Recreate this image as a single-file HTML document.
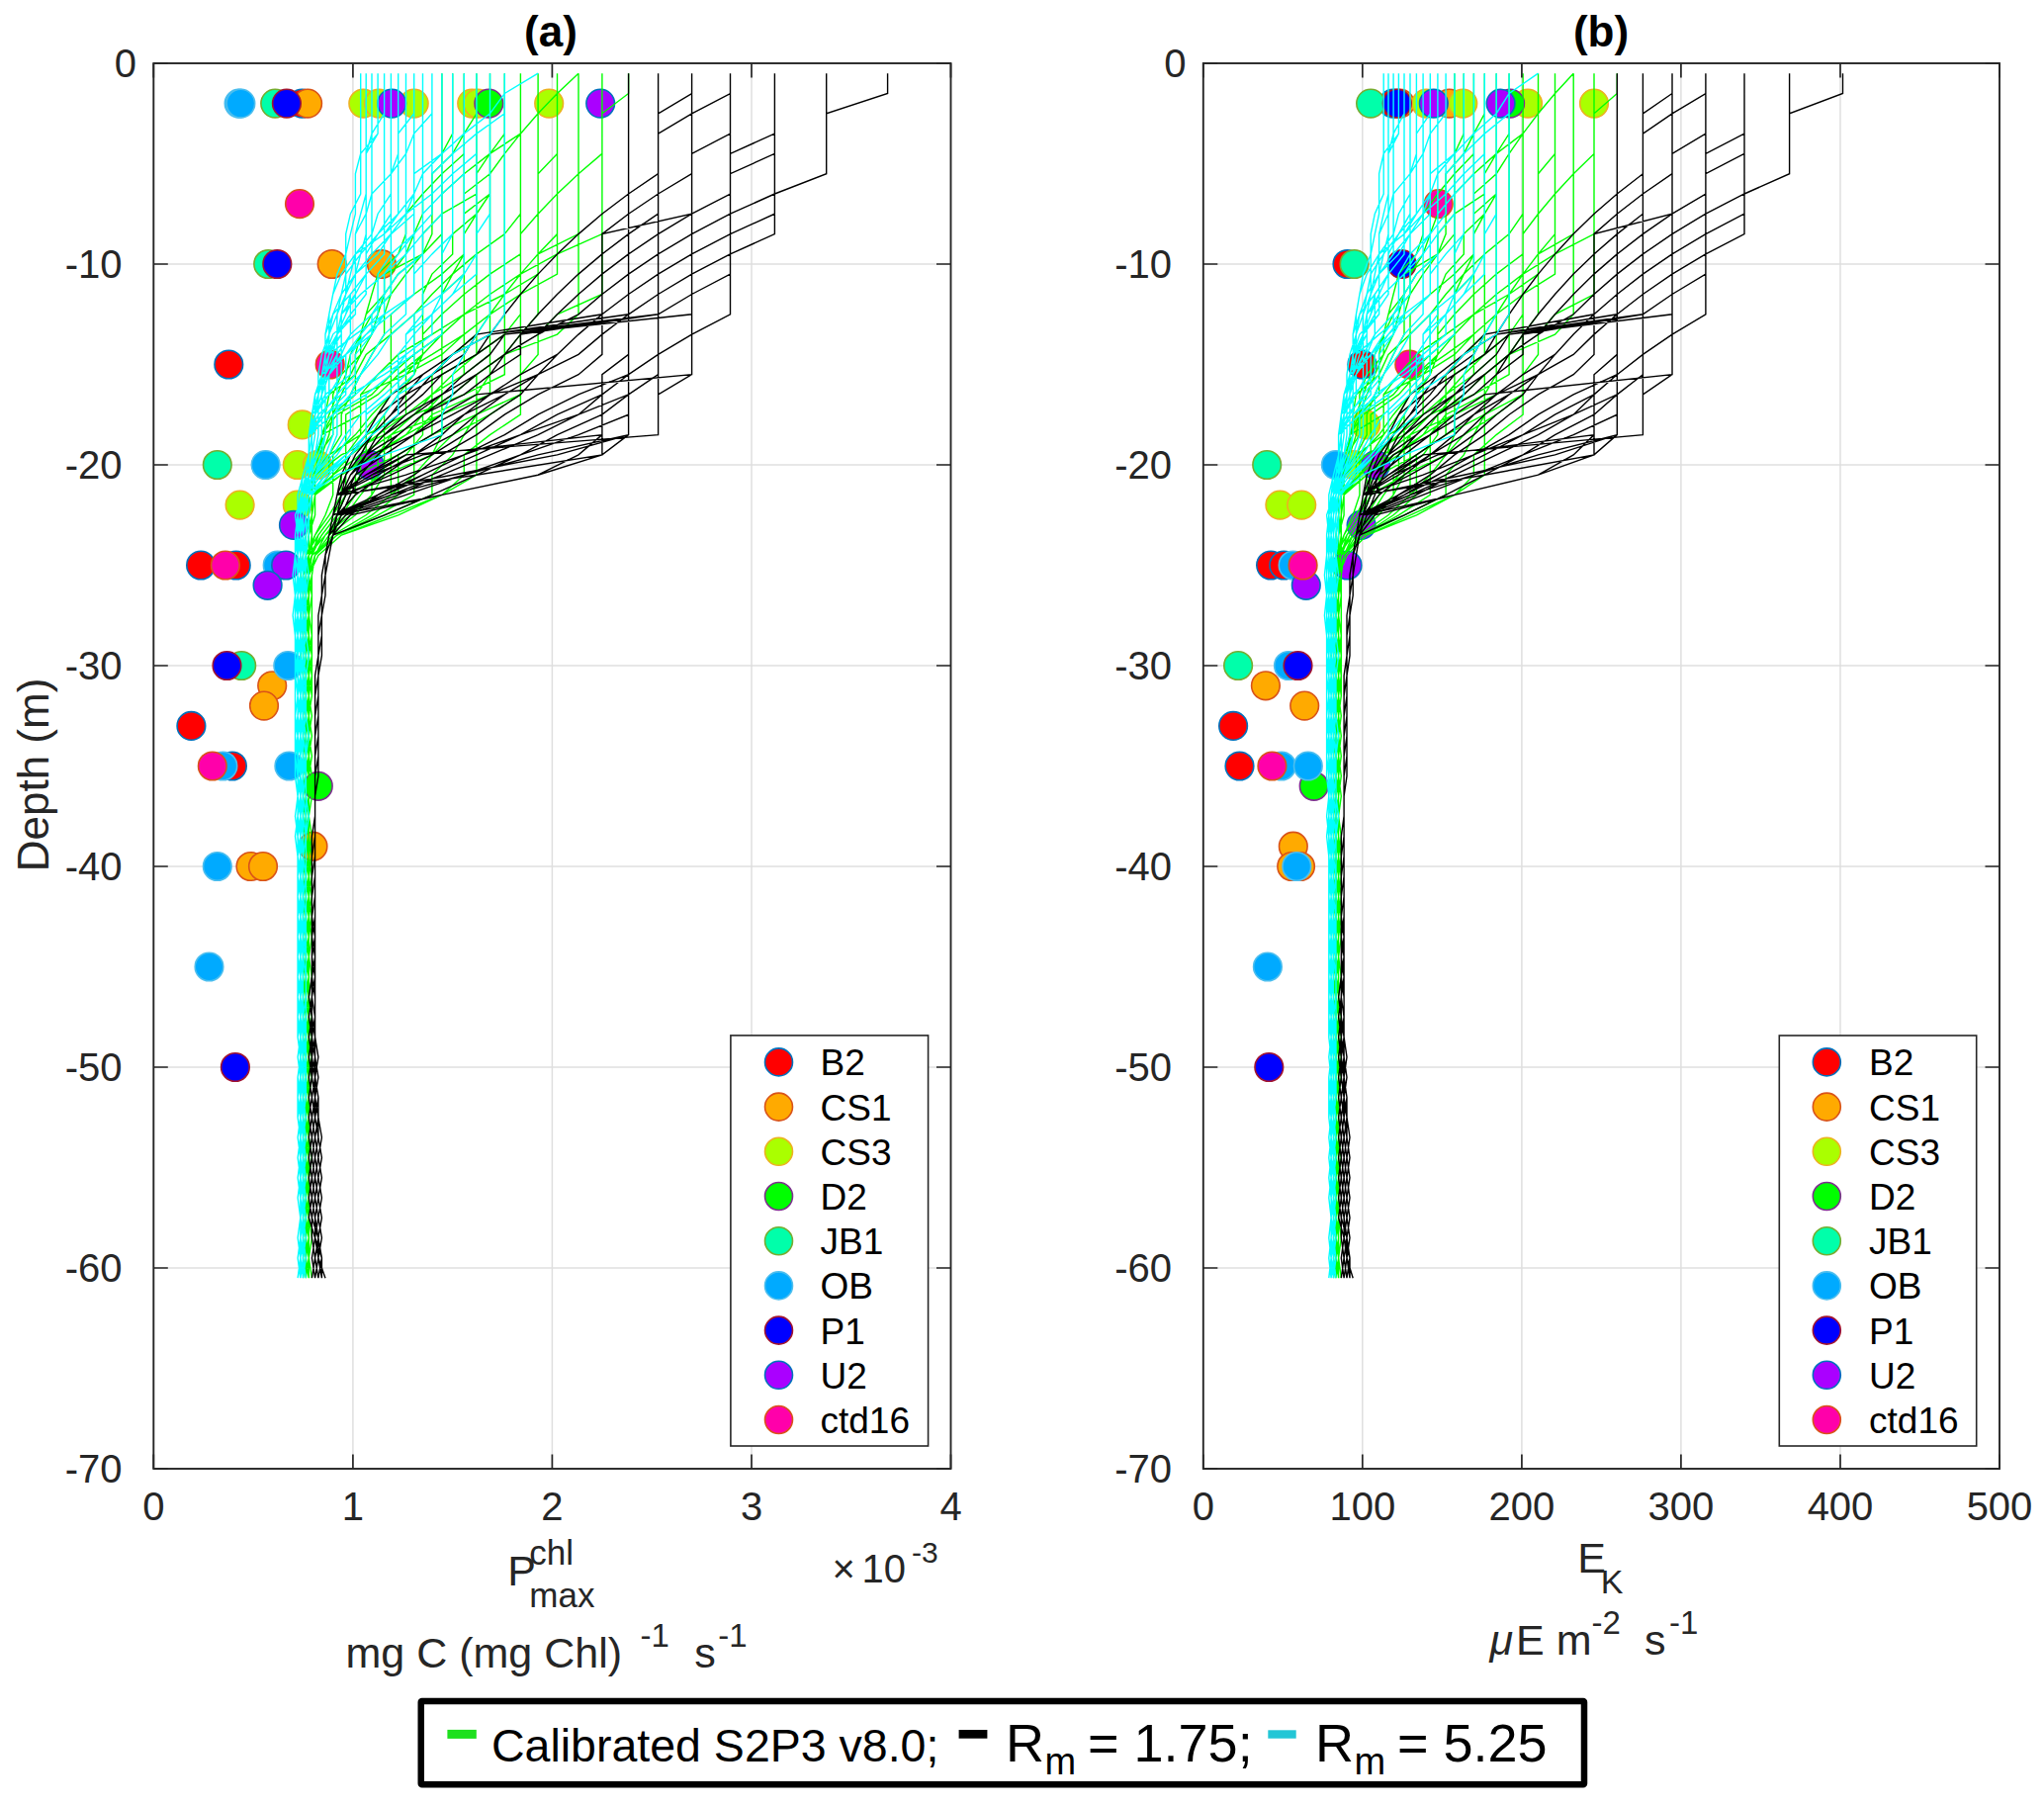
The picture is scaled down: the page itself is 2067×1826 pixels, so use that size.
<!DOCTYPE html>
<html><head><meta charset="utf-8"><title>Pmax and Ek profiles</title>
<style>
html,body{margin:0;padding:0;background:#fff;}
svg{display:block;}
text{font-family:'Liberation Sans', Arial, Helvetica, sans-serif;}
</style></head><body>
<svg xmlns="http://www.w3.org/2000/svg" width="2067" height="1826" viewBox="0 0 2067 1826">
<rect width="2067" height="1826" fill="#fff"/>
<path d="M356.9 64.0V1485.0M558.4 64.0V1485.0M760.0 64.0V1485.0M155.3 267.0H961.5M155.3 470.0H961.5M155.3 673.0H961.5M155.3 876.0H961.5M155.3 1079.0H961.5M155.3 1282.0H961.5" stroke="#dfdfdf" stroke-width="1.5" fill="none"/>
<circle cx="305.5" cy="104.6" r="14.3" fill="#ff0000" stroke="#0072bd" stroke-width="1.6"/>
<circle cx="231.3" cy="368.5" r="14.3" fill="#ff0000" stroke="#0072bd" stroke-width="1.6"/>
<circle cx="203.1" cy="571.5" r="14.3" fill="#ff0000" stroke="#0072bd" stroke-width="1.6"/>
<circle cx="238.7" cy="571.5" r="14.3" fill="#ff0000" stroke="#0072bd" stroke-width="1.6"/>
<circle cx="193.4" cy="733.9" r="14.3" fill="#ff0000" stroke="#0072bd" stroke-width="1.6"/>
<circle cx="234.9" cy="774.5" r="14.3" fill="#ff0000" stroke="#0072bd" stroke-width="1.6"/>
<circle cx="311.1" cy="104.6" r="14.3" fill="#ffaa00" stroke="#d95319" stroke-width="1.6"/>
<circle cx="335.7" cy="267.0" r="14.3" fill="#ffaa00" stroke="#d95319" stroke-width="1.6"/>
<circle cx="385.9" cy="267.0" r="14.3" fill="#ffaa00" stroke="#d95319" stroke-width="1.6"/>
<circle cx="275.2" cy="693.3" r="14.3" fill="#ffaa00" stroke="#d95319" stroke-width="1.6"/>
<circle cx="267.0" cy="713.6" r="14.3" fill="#ffaa00" stroke="#d95319" stroke-width="1.6"/>
<circle cx="316.5" cy="855.7" r="14.3" fill="#ffaa00" stroke="#d95319" stroke-width="1.6"/>
<circle cx="253.5" cy="876.0" r="14.3" fill="#ffaa00" stroke="#d95319" stroke-width="1.6"/>
<circle cx="266.0" cy="876.0" r="14.3" fill="#ffaa00" stroke="#d95319" stroke-width="1.6"/>
<circle cx="367.3" cy="104.6" r="14.3" fill="#aaff00" stroke="#edb120" stroke-width="1.6"/>
<circle cx="383.1" cy="104.6" r="14.3" fill="#aaff00" stroke="#edb120" stroke-width="1.6"/>
<circle cx="418.7" cy="104.6" r="14.3" fill="#aaff00" stroke="#edb120" stroke-width="1.6"/>
<circle cx="477.2" cy="104.6" r="14.3" fill="#aaff00" stroke="#edb120" stroke-width="1.6"/>
<circle cx="483.2" cy="104.6" r="14.3" fill="#aaff00" stroke="#edb120" stroke-width="1.6"/>
<circle cx="555.2" cy="104.6" r="14.3" fill="#aaff00" stroke="#edb120" stroke-width="1.6"/>
<circle cx="305.7" cy="429.4" r="14.3" fill="#aaff00" stroke="#edb120" stroke-width="1.6"/>
<circle cx="300.8" cy="470.0" r="14.3" fill="#aaff00" stroke="#edb120" stroke-width="1.6"/>
<circle cx="321.0" cy="470.0" r="14.3" fill="#aaff00" stroke="#edb120" stroke-width="1.6"/>
<circle cx="242.6" cy="510.6" r="14.3" fill="#aaff00" stroke="#edb120" stroke-width="1.6"/>
<circle cx="300.8" cy="510.6" r="14.3" fill="#aaff00" stroke="#edb120" stroke-width="1.6"/>
<circle cx="494.3" cy="104.6" r="14.3" fill="#00ff00" stroke="#7e2f8e" stroke-width="1.6"/>
<circle cx="321.8" cy="794.8" r="14.3" fill="#00ff00" stroke="#7e2f8e" stroke-width="1.6"/>
<circle cx="278.2" cy="104.6" r="14.3" fill="#00ffaa" stroke="#77ac30" stroke-width="1.6"/>
<circle cx="271.2" cy="267.0" r="14.3" fill="#00ffaa" stroke="#77ac30" stroke-width="1.6"/>
<circle cx="219.8" cy="470.0" r="14.3" fill="#00ffaa" stroke="#77ac30" stroke-width="1.6"/>
<circle cx="244.2" cy="673.0" r="14.3" fill="#00ffaa" stroke="#77ac30" stroke-width="1.6"/>
<circle cx="241.6" cy="104.6" r="14.3" fill="#00aaff" stroke="#4dbeee" stroke-width="1.6"/>
<circle cx="243.4" cy="104.6" r="14.3" fill="#00aaff" stroke="#4dbeee" stroke-width="1.6"/>
<circle cx="268.6" cy="470.0" r="14.3" fill="#00aaff" stroke="#4dbeee" stroke-width="1.6"/>
<circle cx="280.7" cy="571.5" r="14.3" fill="#00aaff" stroke="#4dbeee" stroke-width="1.6"/>
<circle cx="291.3" cy="673.0" r="14.3" fill="#00aaff" stroke="#4dbeee" stroke-width="1.6"/>
<circle cx="225.4" cy="774.5" r="14.3" fill="#00aaff" stroke="#4dbeee" stroke-width="1.6"/>
<circle cx="292.4" cy="774.5" r="14.3" fill="#00aaff" stroke="#4dbeee" stroke-width="1.6"/>
<circle cx="219.8" cy="876.0" r="14.3" fill="#00aaff" stroke="#4dbeee" stroke-width="1.6"/>
<circle cx="211.5" cy="977.5" r="14.3" fill="#00aaff" stroke="#4dbeee" stroke-width="1.6"/>
<circle cx="289.9" cy="104.6" r="14.3" fill="#0000ff" stroke="#a2142f" stroke-width="1.6"/>
<circle cx="280.3" cy="267.0" r="14.3" fill="#0000ff" stroke="#a2142f" stroke-width="1.6"/>
<circle cx="229.5" cy="673.0" r="14.3" fill="#0000ff" stroke="#a2142f" stroke-width="1.6"/>
<circle cx="237.9" cy="1079.0" r="14.3" fill="#0000ff" stroke="#a2142f" stroke-width="1.6"/>
<circle cx="396.2" cy="104.6" r="14.3" fill="#aa00ff" stroke="#0072bd" stroke-width="1.6"/>
<circle cx="607.2" cy="104.6" r="14.3" fill="#aa00ff" stroke="#0072bd" stroke-width="1.6"/>
<circle cx="373.6" cy="470.0" r="14.3" fill="#aa00ff" stroke="#0072bd" stroke-width="1.6"/>
<circle cx="297.0" cy="530.9" r="14.3" fill="#aa00ff" stroke="#0072bd" stroke-width="1.6"/>
<circle cx="289.1" cy="571.5" r="14.3" fill="#aa00ff" stroke="#0072bd" stroke-width="1.6"/>
<circle cx="270.6" cy="591.8" r="14.3" fill="#aa00ff" stroke="#0072bd" stroke-width="1.6"/>
<circle cx="303.0" cy="206.1" r="14.3" fill="#ff00aa" stroke="#d95319" stroke-width="1.6"/>
<circle cx="333.7" cy="368.5" r="14.3" fill="#ff00aa" stroke="#d95319" stroke-width="1.6"/>
<circle cx="227.9" cy="571.5" r="14.3" fill="#ff00aa" stroke="#d95319" stroke-width="1.6"/>
<circle cx="214.8" cy="774.5" r="14.3" fill="#ff00aa" stroke="#d95319" stroke-width="1.6"/>
<path d="M635.6 74.2 635.6 94.5 608.9 114.8 608.9 155.4 585.0 175.7 563.5 196.0 544.1 216.2 544.1 277.1 510.3 297.5 469.3 317.8 446.9 338.1 418.7 358.4 395.4 378.7 376.0 398.9 340.9 419.2 325.4 439.6 321.9 459.9 318.6 480.2 315.4 500.4 312.3 520.8 309.4 541.0 309.4 561.4 306.5 581.6 309.4 602.0 306.5 622.2 309.4 642.6 309.4 683.1 306.5 703.5 309.4 723.8 306.5 744.1 306.5 784.6 309.4 805.0 306.5 825.2 309.4 845.6 306.5 865.9 309.4 886.1 306.5 906.5 309.4 926.8 306.5 947.1 309.4 967.4 306.5 987.6 309.4 1008.0 306.5 1028.2 309.4 1048.6 306.5 1068.8 309.4 1089.2 306.5 1109.5 309.4 1129.8 309.4 1292.2M608.9 74.2 608.9 236.6 563.5 256.9 526.4 277.1 526.4 297.5 495.5 317.8 469.3 338.1 446.9 358.4 410.5 378.7 364.7 398.9 364.7 419.2 325.4 439.6 325.4 459.9 318.6 480.2 315.4 500.4 312.3 520.8 312.3 541.0 309.4 561.4 309.4 602.0 312.3 622.2 309.4 642.6 312.3 662.9 312.3 906.5 309.4 926.8 312.3 947.1 309.4 967.4 312.3 987.6 309.4 1008.0 309.4 1048.6 312.3 1068.8 309.4 1089.2 309.4 1129.8 312.3 1150.0 309.4 1170.4 312.3 1190.7 309.4 1211.0 312.3 1231.2 309.4 1251.5 312.3 1271.9 312.3 1292.2M608.9 74.2 608.9 155.4 585.0 175.7 563.5 196.0 563.5 236.6 544.1 256.9 526.4 277.1 510.3 297.5 495.5 317.8 495.5 358.4 469.3 378.7 436.9 398.9 418.7 419.2 395.4 439.6 364.7 459.9 336.7 480.2 318.6 500.4 318.6 520.8 312.3 541.0 309.4 561.4 306.5 581.6 309.4 602.0 306.5 622.2 309.4 642.6 306.5 662.9 309.4 683.1 309.4 764.4 306.5 784.6 309.4 805.0 306.5 825.2 309.4 845.6 306.5 865.9 309.4 886.1 306.5 906.5 309.4 926.8 309.4 1150.0 312.3 1170.4 309.4 1190.7 312.3 1211.0 309.4 1231.2 309.4 1292.2M585.0 74.2 585.0 317.8 563.5 338.1 510.3 358.4 510.3 378.7 469.3 398.9 418.7 419.2 388.6 439.6 345.2 459.9 318.6 480.2 312.3 500.4 312.3 520.8 315.4 541.0 312.3 561.4 312.3 581.6 309.4 602.0 312.3 622.2 309.4 642.6 312.3 662.9 309.4 683.1 312.3 703.5 309.4 723.8 312.3 744.1 309.4 764.4 312.3 784.6 312.3 926.8 315.4 947.1 312.3 967.4 315.4 987.6 312.3 1008.0 315.4 1028.2 312.3 1048.6 312.3 1271.9 309.4 1292.2M585.0 74.2 585.0 236.6 544.1 256.9 526.4 277.1 510.3 297.5 495.5 317.8 481.9 338.1 481.9 358.4 457.7 378.7 436.9 398.9 410.5 419.2 370.2 439.6 370.2 459.9 345.2 480.2 345.2 500.4 332.8 520.8 318.6 541.0 312.3 561.4 306.5 581.6 306.5 825.2 309.4 845.6 306.5 865.9 309.4 886.1 306.5 906.5 306.5 947.1 309.4 967.4 306.5 987.6 309.4 1008.0 306.5 1028.2 309.4 1048.6 309.4 1292.2M563.5 74.2 563.5 155.4 544.1 175.7 544.1 216.2 526.4 236.6 526.4 256.9 495.5 277.1 469.3 297.5 446.9 317.8 427.5 338.1 427.5 358.4 410.5 378.7 410.5 419.2 382.1 439.6 354.4 459.9 336.7 480.2 315.4 500.4 312.3 520.8 312.3 541.0 309.4 561.4 309.4 581.6 306.5 602.0 309.4 622.2 306.5 642.6 309.4 662.9 306.5 683.1 309.4 703.5 306.5 723.8 309.4 744.1 306.5 764.4 309.4 784.6 309.4 947.1 306.5 967.4 309.4 987.6 306.5 1008.0 309.4 1028.2 309.4 1292.2M563.5 74.2 563.5 277.1 526.4 297.5 526.4 317.8 510.3 338.1 481.9 358.4 446.9 378.7 446.9 398.9 427.5 419.2 410.5 439.6 376.0 459.9 345.2 480.2 315.4 500.4 315.4 561.4 312.3 581.6 312.3 764.4 309.4 784.6 312.3 805.0 309.4 825.2 312.3 845.6 309.4 865.9 312.3 886.1 309.4 906.5 312.3 926.8 309.4 947.1 312.3 967.4 309.4 987.6 312.3 1008.0 309.4 1028.2 312.3 1048.6 309.4 1068.8 312.3 1089.2 309.4 1109.5 312.3 1129.8 309.4 1150.0 312.3 1170.4 309.4 1190.7 312.3 1211.0 309.4 1231.2 312.3 1251.5 309.4 1271.9 312.3 1292.2M544.1 74.2 544.1 114.8 526.4 135.1 510.3 155.4 495.5 175.7 469.3 196.0 469.3 256.9 446.9 277.1 418.7 297.5 395.4 317.8 395.4 398.9 376.0 419.2 359.4 439.6 336.7 459.9 336.7 500.4 329.0 520.8 318.6 541.0 309.4 561.4 309.4 581.6 306.5 602.0 309.4 622.2 306.5 642.6 309.4 662.9 306.5 683.1 309.4 703.5 306.5 723.8 309.4 744.1 306.5 764.4 309.4 784.6 306.5 805.0 309.4 825.2 306.5 845.6 306.5 886.1 309.4 906.5 309.4 1231.2 306.5 1251.5 309.4 1271.9 309.4 1292.2M526.4 74.2 526.4 277.1 495.5 297.5 469.3 317.8 436.9 338.1 402.7 358.4 382.1 378.7 364.7 398.9 364.7 439.6 332.8 459.9 315.4 480.2 315.4 520.8 312.3 541.0 312.3 561.4 309.4 581.6 312.3 602.0 309.4 622.2 312.3 642.6 309.4 662.9 312.3 683.1 309.4 703.5 312.3 723.8 309.4 744.1 312.3 764.4 309.4 784.6 312.3 805.0 309.4 825.2 309.4 947.1 312.3 967.4 309.4 987.6 312.3 1008.0 309.4 1028.2 312.3 1048.6 309.4 1068.8 312.3 1089.2 312.3 1129.8 309.4 1150.0 312.3 1170.4 309.4 1190.7 312.3 1211.0 309.4 1231.2 312.3 1251.5 309.4 1271.9 312.3 1292.2M526.4 74.2 526.4 398.9 495.5 419.2 457.7 439.6 436.9 459.9 388.6 480.2 349.7 500.4 340.9 520.8 325.4 541.0 312.3 561.4 309.4 581.6 306.5 602.0 309.4 622.2 306.5 642.6 306.5 764.4 309.4 784.6 306.5 805.0 309.4 825.2 306.5 845.6 309.4 865.9 306.5 886.1 309.4 906.5 306.5 926.8 309.4 947.1 306.5 967.4 309.4 987.6 309.4 1089.2 312.3 1109.5 309.4 1129.8 312.3 1150.0 309.4 1170.4 312.3 1190.7 309.4 1211.0 309.4 1251.5 312.3 1271.9 309.4 1292.2M510.3 74.2 510.3 135.1 495.5 155.4 495.5 196.0 481.9 216.2 457.7 236.6 457.7 256.9 436.9 277.1 427.5 297.5 427.5 358.4 418.7 378.7 402.7 398.9 388.6 419.2 376.0 439.6 364.7 459.9 364.7 480.2 349.7 500.4 340.9 520.8 325.4 541.0 315.4 561.4 309.4 581.6 312.3 602.0 312.3 764.4 309.4 784.6 312.3 805.0 309.4 825.2 312.3 845.6 309.4 865.9 312.3 886.1 309.4 906.5 312.3 926.8 309.4 947.1 312.3 967.4 309.4 987.6 312.3 1008.0 309.4 1028.2 312.3 1048.6 309.4 1068.8 309.4 1190.7 312.3 1211.0 309.4 1231.2 312.3 1251.5 309.4 1271.9 312.3 1292.2M510.3 74.2 510.3 358.4 481.9 378.7 481.9 398.9 436.9 419.2 436.9 439.6 402.7 459.9 402.7 500.4 376.0 520.8 340.9 541.0 318.6 561.4 315.4 581.6 312.3 602.0 312.3 642.6 315.4 662.9 312.3 683.1 312.3 744.1 309.4 764.4 312.3 784.6 309.4 805.0 312.3 825.2 309.4 845.6 312.3 865.9 309.4 886.1 312.3 906.5 309.4 926.8 312.3 947.1 309.4 967.4 312.3 987.6 309.4 1008.0 312.3 1028.2 309.4 1048.6 312.3 1068.8 309.4 1089.2 312.3 1109.5 309.4 1129.8 312.3 1150.0 309.4 1170.4 312.3 1190.7 309.4 1211.0 312.3 1231.2 309.4 1251.5 312.3 1271.9 309.4 1292.2M495.5 74.2 495.5 196.0 469.3 216.2 469.3 256.9 457.7 277.1 436.9 297.5 418.7 317.8 418.7 378.7 395.4 398.9 382.1 419.2 364.7 439.6 349.7 459.9 349.7 500.4 336.7 520.8 321.9 541.0 315.4 561.4 309.4 581.6 312.3 602.0 309.4 622.2 312.3 642.6 309.4 662.9 312.3 683.1 309.4 703.5 312.3 723.8 309.4 744.1 309.4 825.2 312.3 845.6 309.4 865.9 312.3 886.1 309.4 906.5 312.3 926.8 309.4 947.1 312.3 967.4 309.4 987.6 309.4 1028.2 312.3 1048.6 309.4 1068.8 309.4 1190.7 312.3 1211.0 309.4 1231.2 312.3 1251.5 309.4 1271.9 312.3 1292.2M495.5 74.2 495.5 398.9 446.9 419.2 395.4 439.6 395.4 500.4 370.2 520.8 336.7 541.0 318.6 561.4 315.4 581.6 315.4 703.5 312.3 723.8 315.4 744.1 312.3 764.4 315.4 784.6 312.3 805.0 312.3 845.6 315.4 865.9 312.3 886.1 315.4 906.5 312.3 926.8 315.4 947.1 312.3 967.4 315.4 987.6 312.3 1008.0 312.3 1048.6 315.4 1068.8 312.3 1089.2 312.3 1292.2M481.9 74.2 481.9 216.2 469.3 236.6 469.3 256.9 457.7 277.1 446.9 297.5 446.9 439.6 436.9 459.9 418.7 480.2 418.7 500.4 382.1 520.8 340.9 541.0 315.4 561.4 306.5 581.6 309.4 602.0 306.5 622.2 309.4 642.6 306.5 662.9 309.4 683.1 306.5 703.5 309.4 723.8 306.5 744.1 309.4 764.4 309.4 805.0 306.5 825.2 309.4 845.6 309.4 886.1 306.5 906.5 309.4 926.8 306.5 947.1 309.4 967.4 306.5 987.6 309.4 1008.0 309.4 1190.7 312.3 1211.0 309.4 1231.2 309.4 1292.2M469.3 74.2 469.3 378.7 436.9 398.9 436.9 419.2 418.7 439.6 418.7 480.2 395.4 500.4 370.2 520.8 336.7 541.0 318.6 561.4 315.4 581.6 312.3 602.0 312.3 642.6 315.4 662.9 312.3 683.1 315.4 703.5 312.3 723.8 312.3 764.4 315.4 784.6 312.3 805.0 312.3 865.9 309.4 886.1 312.3 906.5 309.4 926.8 312.3 947.1 312.3 1292.2M457.7 74.2 457.7 135.1 446.9 155.4 446.9 175.7 427.5 196.0 427.5 216.2 418.7 236.6 410.5 256.9 395.4 277.1 395.4 297.5 388.6 317.8 388.6 338.1 376.0 358.4 364.7 378.7 354.4 398.9 345.2 419.2 345.2 439.6 332.8 459.9 332.8 480.2 318.6 500.4 315.4 520.8 312.3 541.0 309.4 561.4 306.5 581.6 306.5 642.6 303.8 662.9 306.5 683.1 306.5 703.5 309.4 723.8 306.5 744.1 309.4 764.4 306.5 784.6 309.4 805.0 306.5 825.2 306.5 1068.8 309.4 1089.2 306.5 1109.5 309.4 1129.8 306.5 1150.0 309.4 1170.4 306.5 1190.7 309.4 1211.0 306.5 1231.2 309.4 1251.5 309.4 1292.2M446.9 74.2 446.9 419.2 410.5 439.6 382.1 459.9 345.2 480.2 318.6 500.4 315.4 520.8 315.4 541.0 312.3 561.4 312.3 581.6 309.4 602.0 312.3 622.2 309.4 642.6 312.3 662.9 309.4 683.1 312.3 703.5 309.4 723.8 312.3 744.1 309.4 764.4 309.4 805.0 312.3 825.2 309.4 845.6 312.3 865.9 309.4 886.1 312.3 906.5 309.4 926.8 312.3 947.1 309.4 967.4 309.4 1048.6 312.3 1068.8 309.4 1089.2 312.3 1109.5 309.4 1129.8 312.3 1150.0 312.3 1292.2M544.1 74.2 544.1 317.8 526.4 338.1 510.3 358.4 481.9 378.7 457.7 398.9 427.5 419.2 427.5 439.6 410.5 459.9 376.0 480.2 376.0 500.4 359.4 520.8 332.8 541.0 318.6 561.4 312.3 581.6 312.3 642.6 309.4 662.9 312.3 683.1 309.4 703.5 312.3 723.8 309.4 744.1 312.3 764.4 312.3 865.9 315.4 886.1 312.3 906.5 315.4 926.8 312.3 947.1 312.3 1008.0 309.4 1028.2 312.3 1048.6 309.4 1068.8 312.3 1089.2 312.3 1150.0 315.4 1170.4 312.3 1190.7 312.3 1231.2 315.4 1251.5 312.3 1271.9 312.3 1292.2M469.3 74.2 469.3 155.4 446.9 175.7 427.5 196.0 410.5 216.2 410.5 236.6 402.7 256.9 382.1 277.1 376.0 297.5 370.2 317.8 364.7 338.1 354.4 358.4 349.7 378.7 340.9 398.9 332.8 419.2 325.4 439.6 325.4 459.9 318.6 480.2 315.4 500.4 312.3 520.8 312.3 541.0 309.4 561.4 309.4 662.9 306.5 683.1 309.4 703.5 306.5 723.8 306.5 764.4 309.4 784.6 306.5 805.0 309.4 825.2 306.5 845.6 309.4 865.9 306.5 886.1 309.4 906.5 306.5 926.8 309.4 947.1 309.4 987.6 306.5 1008.0 309.4 1028.2 306.5 1048.6 309.4 1068.8 309.4 1292.2M585.0 74.2 563.5 94.5 544.1 114.8 526.4 135.1 495.5 155.4 469.3 175.7 446.9 196.0 446.9 216.2 427.5 236.6 427.5 256.9 402.7 277.1 388.6 297.5 382.1 317.8 376.0 338.1 364.7 358.4 354.4 378.7 345.2 398.9 336.7 419.2 332.8 439.6 325.4 459.9 318.6 480.2 315.4 500.4 312.3 520.8 309.4 541.0 306.5 561.4 303.8 581.6 306.5 602.0 303.8 622.2 306.5 642.6 303.8 662.9 306.5 683.1 306.5 703.5 309.4 723.8 306.5 744.1 309.4 764.4 306.5 784.6 309.4 805.0 306.5 825.2 309.4 845.6 306.5 865.9 309.4 886.1 306.5 906.5 309.4 926.8 306.5 947.1 306.5 1068.8 309.4 1089.2 306.5 1109.5 309.4 1129.8 306.5 1150.0 309.4 1170.4 309.4 1211.0 306.5 1231.2 309.4 1251.5 306.5 1271.9 309.4 1292.2M526.4 74.2 526.4 216.2 510.3 236.6 481.9 256.9 457.7 277.1 436.9 297.5 418.7 317.8 395.4 338.1 370.2 358.4 359.4 378.7 332.8 398.9 329.0 419.2 329.0 439.6 318.6 459.9 315.4 480.2 315.4 541.0 312.3 561.4 312.3 581.6 309.4 602.0 312.3 622.2 309.4 642.6 312.3 662.9 309.4 683.1 312.3 703.5 309.4 723.8 312.3 744.1 309.4 764.4 312.3 784.6 309.4 805.0 312.3 825.2 309.4 845.6 312.3 865.9 309.4 886.1 312.3 906.5 309.4 926.8 312.3 947.1 309.4 967.4 312.3 987.6 309.4 1008.0 312.3 1028.2 309.4 1048.6 312.3 1068.8 309.4 1089.2 312.3 1109.5 309.4 1129.8 312.3 1150.0 309.4 1170.4 312.3 1190.7 309.4 1211.0 312.3 1231.2 309.4 1251.5 312.3 1271.9 309.4 1292.2M608.9 74.2 608.9 297.5 563.5 317.8 544.1 338.1 544.1 358.4 526.4 378.7 526.4 398.9 481.9 419.2 481.9 480.2 446.9 500.4 402.7 520.8 345.2 541.0 321.9 561.4 312.3 581.6 312.3 602.0 309.4 622.2 312.3 642.6 309.4 662.9 312.3 683.1 309.4 703.5 312.3 723.8 312.3 784.6 315.4 805.0 312.3 825.2 315.4 845.6 312.3 865.9 315.4 886.1 312.3 906.5 312.3 967.4 309.4 987.6 312.3 1008.0 309.4 1028.2 312.3 1048.6 309.4 1068.8 312.3 1089.2 312.3 1129.8 309.4 1150.0 312.3 1170.4 309.4 1190.7 312.3 1211.0 309.4 1231.2 312.3 1251.5 312.3 1292.2M469.3 74.2 469.3 277.1 446.9 297.5 446.9 338.1 427.5 358.4 402.7 378.7 402.7 398.9 388.6 419.2 388.6 480.2 376.0 500.4 354.4 520.8 329.0 541.0 312.3 561.4 309.4 581.6 309.4 642.6 312.3 662.9 309.4 683.1 312.3 703.5 309.4 723.8 312.3 744.1 309.4 764.4 312.3 784.6 309.4 805.0 312.3 825.2 309.4 845.6 309.4 865.9 306.5 886.1 309.4 906.5 306.5 926.8 309.4 947.1 306.5 967.4 309.4 987.6 306.5 1008.0 309.4 1028.2 309.4 1150.0 306.5 1170.4 309.4 1190.7 306.5 1211.0 309.4 1231.2 309.4 1292.2M481.9 74.2 481.9 114.8 469.3 135.1 457.7 155.4 436.9 175.7 436.9 236.6 427.5 256.9 410.5 277.1 395.4 297.5 376.0 317.8 364.7 338.1 364.7 358.4 345.2 378.7 336.7 398.9 336.7 419.2 325.4 439.6 321.9 459.9 318.6 480.2 318.6 500.4 315.4 520.8 312.3 541.0 312.3 561.4 309.4 581.6 312.3 602.0 309.4 622.2 309.4 662.9 312.3 683.1 309.4 703.5 312.3 723.8 309.4 744.1 312.3 764.4 309.4 784.6 312.3 805.0 309.4 825.2 312.3 845.6 309.4 865.9 312.3 886.1 312.3 967.4 309.4 987.6 312.3 1008.0 309.4 1028.2 312.3 1048.6 309.4 1068.8 312.3 1089.2 309.4 1109.5 312.3 1129.8 309.4 1150.0 312.3 1170.4 312.3 1292.2M495.5 74.2 495.5 155.4 481.9 175.7 481.9 196.0 446.9 216.2 446.9 236.6 427.5 256.9 388.6 277.1 388.6 297.5 370.2 317.8 364.7 338.1 359.4 358.4 359.4 398.9 336.7 419.2 336.7 439.6 321.9 459.9 318.6 480.2 318.6 500.4 315.4 520.8 312.3 541.0 309.4 561.4 312.3 581.6 309.4 602.0 312.3 622.2 309.4 642.6 309.4 662.9 306.5 683.1 309.4 703.5 306.5 723.8 309.4 744.1 306.5 764.4 309.4 784.6 306.5 805.0 309.4 825.2 306.5 845.6 309.4 865.9 306.5 886.1 309.4 906.5 309.4 1150.0 306.5 1170.4 309.4 1190.7 309.4 1292.2M526.4 74.2 526.4 419.2 495.5 439.6 469.3 459.9 469.3 480.2 446.9 500.4 395.4 520.8 345.2 541.0 321.9 561.4 312.3 581.6 315.4 602.0 312.3 622.2 315.4 642.6 312.3 662.9 315.4 683.1 312.3 703.5 315.4 723.8 312.3 744.1 315.4 764.4 312.3 784.6 315.4 805.0 312.3 825.2 315.4 845.6 312.3 865.9 312.3 906.5 315.4 926.8 312.3 947.1 312.3 1028.2 315.4 1048.6 312.3 1068.8 315.4 1089.2 312.3 1109.5 312.3 1292.2M469.3 74.2 469.3 338.1 436.9 358.4 402.7 378.7 382.1 398.9 349.7 419.2 349.7 500.4 336.7 520.8 321.9 541.0 309.4 561.4 306.5 581.6 306.5 642.6 309.4 662.9 306.5 683.1 309.4 703.5 306.5 723.8 309.4 744.1 306.5 764.4 309.4 784.6 306.5 805.0 309.4 825.2 306.5 845.6 309.4 865.9 306.5 886.1 309.4 906.5 306.5 926.8 309.4 947.1 306.5 967.4 309.4 987.6 306.5 1008.0 309.4 1028.2 306.5 1048.6 306.5 1129.8 309.4 1150.0 306.5 1170.4 309.4 1190.7 306.5 1211.0 309.4 1231.2 306.5 1251.5 309.4 1271.9 306.5 1292.2M526.4 74.2 526.4 398.9 481.9 419.2 436.9 439.6 402.7 459.9 359.4 480.2 359.4 500.4 345.2 520.8 329.0 541.0 318.6 561.4 312.3 581.6 312.3 683.1 309.4 703.5 312.3 723.8 309.4 744.1 312.3 764.4 309.4 784.6 312.3 805.0 309.4 825.2 312.3 845.6 312.3 886.1 309.4 906.5 312.3 926.8 309.4 947.1 312.3 967.4 312.3 1129.8 309.4 1150.0 312.3 1170.4 309.4 1190.7 312.3 1211.0 312.3 1271.9 315.4 1292.2M495.5 74.2 495.5 378.7 481.9 398.9 481.9 419.2 469.3 439.6 457.7 459.9 436.9 480.2 436.9 500.4 388.6 520.8 340.9 541.0 315.4 561.4 309.4 581.6 309.4 602.0 312.3 622.2 309.4 642.6 309.4 723.8 312.3 744.1 309.4 764.4 312.3 784.6 309.4 805.0 312.3 825.2 309.4 845.6 312.3 865.9 309.4 886.1 312.3 906.5 309.4 926.8 312.3 947.1 309.4 967.4 312.3 987.6 309.4 1008.0 312.3 1028.2 309.4 1048.6 312.3 1068.8 309.4 1089.2 309.4 1129.8 312.3 1150.0 309.4 1170.4 312.3 1190.7 309.4 1211.0 312.3 1231.2 309.4 1251.5 312.3 1271.9 309.4 1292.2M481.9 74.2 481.9 338.1 457.7 358.4 436.9 378.7 436.9 398.9 418.7 419.2 395.4 439.6 382.1 459.9 382.1 480.2 364.7 500.4 349.7 520.8 329.0 541.0 318.6 561.4 312.3 581.6 312.3 642.6 309.4 662.9 312.3 683.1 312.3 703.5 315.4 723.8 312.3 744.1 312.3 784.6 315.4 805.0 312.3 825.2 315.4 845.6 312.3 865.9 315.4 886.1 312.3 906.5 312.3 967.4 309.4 987.6 312.3 1008.0 309.4 1028.2 312.3 1048.6 312.3 1211.0 309.4 1231.2 312.3 1251.5 309.4 1271.9 312.3 1292.2" fill="none" stroke="#00ff00" stroke-width="1.4"/>
<path d="M897.6 74.2 897.6 94.5 835.7 114.8 835.7 175.7 783.4 196.0 738.5 216.2 699.6 236.6 665.6 256.9 635.6 277.1 608.9 297.5 585.0 317.8 544.1 338.1 510.3 358.4 481.9 378.7 446.9 398.9 418.7 419.2 388.6 439.6 370.2 459.9 354.4 480.2 345.2 500.4 340.9 520.8 336.7 541.0 329.0 561.4 329.0 581.6 325.4 602.0 325.4 622.2 321.9 642.6 321.9 703.5 318.6 723.8 318.6 1048.6 321.9 1068.8 318.6 1089.2 321.9 1109.5 321.9 1129.8 325.4 1150.0 321.9 1170.4 325.4 1190.7 321.9 1211.0 325.4 1231.2 321.9 1251.5 325.4 1271.9 325.4 1292.2M835.7 74.2 835.7 175.7 783.4 196.0 783.4 236.6 738.5 256.9 738.5 317.8 699.6 338.1 699.6 378.7 665.6 398.9 665.6 439.6 410.5 459.9 370.2 480.2 340.9 500.4 336.7 520.8 332.8 541.0 329.0 561.4 325.4 581.6 325.4 602.0 321.9 622.2 321.9 662.9 318.6 683.1 318.6 825.2 315.4 845.6 315.4 1028.2 318.6 1048.6 315.4 1068.8 318.6 1089.2 318.6 1109.5 321.9 1129.8 318.6 1150.0 321.9 1170.4 318.6 1190.7 321.9 1211.0 318.6 1231.2 321.9 1251.5 321.9 1271.9 325.4 1292.2M783.4 74.2 783.4 236.6 738.5 256.9 699.6 277.1 665.6 297.5 635.6 317.8 608.9 338.1 585.0 358.4 544.1 378.7 526.4 398.9 495.5 419.2 469.3 439.6 436.9 459.9 395.4 480.2 349.7 500.4 340.9 520.8 336.7 541.0 332.8 561.4 329.0 581.6 325.4 602.0 325.4 642.6 321.9 662.9 321.9 723.8 318.6 744.1 318.6 947.1 315.4 967.4 315.4 1048.6 318.6 1068.8 315.4 1089.2 318.6 1109.5 315.4 1129.8 318.6 1150.0 315.4 1170.4 318.6 1190.7 315.4 1211.0 318.6 1231.2 318.6 1251.5 321.9 1271.9 318.6 1292.2M783.4 74.2 783.4 155.4 738.5 175.7 738.5 317.8 699.6 338.1 665.6 358.4 635.6 378.7 608.9 398.9 563.5 419.2 526.4 439.6 481.9 459.9 436.9 480.2 388.6 500.4 336.7 520.8 332.8 541.0 329.0 561.4 329.0 581.6 325.4 602.0 325.4 622.2 321.9 642.6 321.9 662.9 318.6 683.1 318.6 865.9 315.4 886.1 315.4 1008.0 312.3 1028.2 315.4 1048.6 312.3 1068.8 315.4 1089.2 312.3 1109.5 315.4 1129.8 312.3 1150.0 315.4 1170.4 312.3 1190.7 315.4 1211.0 312.3 1231.2 318.6 1251.5 315.4 1271.9 318.6 1292.2M783.4 74.2 783.4 216.2 738.5 236.6 699.6 256.9 665.6 277.1 635.6 297.5 608.9 317.8 585.0 338.1 563.5 358.4 526.4 378.7 495.5 398.9 469.3 419.2 446.9 439.6 418.7 459.9 388.6 480.2 359.4 500.4 340.9 520.8 336.7 541.0 329.0 561.4 329.0 581.6 325.4 602.0 325.4 622.2 321.9 642.6 321.9 703.5 318.6 723.8 318.6 1068.8 321.9 1089.2 318.6 1109.5 321.9 1129.8 321.9 1150.0 325.4 1170.4 321.9 1190.7 325.4 1211.0 321.9 1231.2 325.4 1251.5 321.9 1271.9 329.0 1292.2M738.5 74.2 738.5 94.5 699.6 114.8 665.6 135.1 665.6 317.8 495.5 338.1 457.7 358.4 427.5 378.7 395.4 398.9 382.1 419.2 370.2 439.6 354.4 459.9 345.2 480.2 340.9 500.4 336.7 520.8 332.8 541.0 329.0 561.4 325.4 581.6 325.4 602.0 321.9 622.2 321.9 662.9 318.6 683.1 318.6 825.2 315.4 845.6 315.4 1008.0 318.6 1028.2 315.4 1048.6 318.6 1068.8 315.4 1089.2 318.6 1109.5 318.6 1129.8 321.9 1150.0 318.6 1170.4 321.9 1190.7 318.6 1211.0 321.9 1231.2 318.6 1251.5 325.4 1271.9 321.9 1292.2M699.6 74.2 699.6 317.8 510.3 338.1 481.9 358.4 446.9 378.7 410.5 398.9 382.1 419.2 370.2 439.6 354.4 459.9 345.2 480.2 340.9 500.4 336.7 520.8 332.8 541.0 329.0 561.4 325.4 581.6 325.4 602.0 321.9 622.2 321.9 662.9 318.6 683.1 318.6 825.2 315.4 845.6 315.4 1068.8 318.6 1089.2 315.4 1109.5 318.6 1129.8 315.4 1150.0 318.6 1170.4 315.4 1190.7 318.6 1211.0 315.4 1231.2 321.9 1251.5 318.6 1271.9 321.9 1292.2M699.6 74.2 699.6 216.2 608.9 236.6 608.9 317.8 481.9 338.1 457.7 358.4 436.9 378.7 418.7 398.9 395.4 419.2 376.0 439.6 359.4 459.9 349.7 480.2 345.2 500.4 336.7 520.8 332.8 541.0 329.0 561.4 329.0 581.6 325.4 602.0 325.4 622.2 321.9 642.6 321.9 662.9 318.6 683.1 318.6 865.9 315.4 886.1 315.4 1028.2 312.3 1048.6 315.4 1068.8 312.3 1089.2 315.4 1109.5 312.3 1129.8 315.4 1150.0 312.3 1170.4 315.4 1190.7 312.3 1211.0 315.4 1231.2 315.4 1251.5 318.6 1271.9 315.4 1292.2M665.6 74.2 665.6 317.8 510.3 338.1 495.5 358.4 469.3 378.7 446.9 398.9 410.5 419.2 388.6 439.6 370.2 459.9 359.4 480.2 349.7 500.4 340.9 520.8 336.7 541.0 332.8 561.4 329.0 581.6 325.4 602.0 325.4 642.6 321.9 662.9 321.9 744.1 318.6 764.4 318.6 1048.6 321.9 1068.8 318.6 1089.2 321.9 1109.5 321.9 1129.8 325.4 1150.0 321.9 1170.4 325.4 1190.7 321.9 1211.0 325.4 1231.2 321.9 1251.5 325.4 1271.9 325.4 1292.2M635.6 74.2 635.6 317.8 495.5 338.1 457.7 358.4 427.5 378.7 410.5 398.9 395.4 419.2 376.0 439.6 359.4 459.9 349.7 480.2 340.9 500.4 336.7 520.8 332.8 541.0 329.0 561.4 329.0 581.6 325.4 602.0 325.4 622.2 321.9 642.6 321.9 662.9 318.6 683.1 318.6 865.9 315.4 886.1 315.4 1028.2 318.6 1048.6 315.4 1068.8 318.6 1089.2 318.6 1109.5 321.9 1129.8 318.6 1150.0 321.9 1170.4 318.6 1190.7 321.9 1211.0 318.6 1231.2 321.9 1251.5 321.9 1271.9 325.4 1292.2M635.6 74.2 635.6 216.2 608.9 236.6 608.9 317.8 481.9 338.1 469.3 358.4 436.9 378.7 418.7 398.9 395.4 419.2 376.0 439.6 364.7 459.9 349.7 480.2 345.2 500.4 336.7 520.8 332.8 541.0 329.0 561.4 329.0 581.6 325.4 602.0 325.4 622.2 321.9 642.6 321.9 662.9 318.6 683.1 318.6 886.1 315.4 906.5 315.4 1048.6 318.6 1068.8 315.4 1089.2 318.6 1109.5 315.4 1129.8 318.6 1150.0 315.4 1170.4 318.6 1190.7 315.4 1211.0 318.6 1231.2 318.6 1251.5 321.9 1271.9 318.6 1292.2M738.5 74.2 738.5 277.1 699.6 297.5 665.6 317.8 526.4 338.1 526.4 358.4 495.5 378.7 469.3 398.9 427.5 419.2 402.7 439.6 382.1 459.9 364.7 480.2 354.4 500.4 345.2 520.8 336.7 541.0 332.8 561.4 329.0 581.6 329.0 602.0 325.4 622.2 325.4 642.6 321.9 662.9 321.9 784.6 318.6 805.0 318.6 967.4 315.4 987.6 315.4 1089.2 312.3 1109.5 315.4 1129.8 312.3 1150.0 315.4 1170.4 312.3 1190.7 315.4 1211.0 312.3 1231.2 318.6 1251.5 315.4 1271.9 318.6 1292.2M738.5 74.2 738.5 317.8 699.6 338.1 665.6 358.4 635.6 378.7 608.9 398.9 585.0 419.2 544.1 439.6 495.5 459.9 446.9 480.2 395.4 500.4 340.9 520.8 336.7 541.0 329.0 561.4 329.0 581.6 325.4 602.0 325.4 622.2 321.9 642.6 321.9 703.5 318.6 723.8 318.6 1068.8 321.9 1089.2 318.6 1109.5 321.9 1129.8 321.9 1150.0 325.4 1170.4 321.9 1190.7 325.4 1211.0 321.9 1231.2 325.4 1251.5 321.9 1271.9 329.0 1292.2M738.5 74.2 738.5 135.1 699.6 155.4 699.6 378.7 481.9 398.9 446.9 419.2 418.7 439.6 388.6 459.9 359.4 480.2 345.2 500.4 340.9 520.8 332.8 541.0 329.0 561.4 329.0 581.6 325.4 602.0 325.4 622.2 321.9 642.6 321.9 683.1 318.6 703.5 318.6 906.5 315.4 926.8 318.6 947.1 315.4 967.4 318.6 987.6 315.4 1008.0 318.6 1028.2 315.4 1048.6 318.6 1068.8 318.6 1129.8 321.9 1150.0 318.6 1170.4 321.9 1190.7 318.6 1211.0 321.9 1231.2 318.6 1251.5 325.4 1271.9 321.9 1292.2M738.5 74.2 738.5 196.0 699.6 216.2 665.6 236.6 635.6 256.9 608.9 277.1 585.0 297.5 563.5 317.8 544.1 338.1 510.3 358.4 481.9 378.7 457.7 398.9 427.5 419.2 402.7 439.6 370.2 459.9 354.4 480.2 345.2 500.4 340.9 520.8 336.7 541.0 329.0 561.4 329.0 581.6 325.4 602.0 325.4 622.2 321.9 642.6 321.9 703.5 318.6 723.8 318.6 926.8 315.4 947.1 315.4 1028.2 318.6 1048.6 315.4 1068.8 318.6 1089.2 315.4 1109.5 318.6 1129.8 315.4 1150.0 318.6 1170.4 315.4 1190.7 318.6 1211.0 315.4 1231.2 321.9 1251.5 318.6 1271.9 321.9 1292.2M699.6 74.2 699.6 338.1 665.6 358.4 635.6 378.7 585.0 398.9 544.1 419.2 510.3 439.6 469.3 459.9 427.5 480.2 382.1 500.4 336.7 520.8 332.8 541.0 329.0 561.4 325.4 581.6 325.4 602.0 321.9 622.2 321.9 662.9 318.6 683.1 318.6 825.2 315.4 845.6 315.4 987.6 312.3 1008.0 315.4 1028.2 312.3 1048.6 315.4 1068.8 312.3 1089.2 315.4 1109.5 312.3 1129.8 315.4 1150.0 312.3 1170.4 315.4 1190.7 312.3 1211.0 315.4 1231.2 315.4 1251.5 318.6 1271.9 315.4 1292.2M699.6 74.2 699.6 94.5 665.6 114.8 665.6 358.4 635.6 378.7 585.0 398.9 544.1 419.2 510.3 439.6 469.3 459.9 427.5 480.2 388.6 500.4 345.2 520.8 336.7 541.0 332.8 561.4 329.0 581.6 329.0 602.0 325.4 622.2 325.4 662.9 321.9 683.1 321.9 784.6 318.6 805.0 318.6 1048.6 321.9 1068.8 318.6 1089.2 321.9 1109.5 321.9 1129.8 325.4 1150.0 321.9 1170.4 325.4 1190.7 321.9 1211.0 325.4 1231.2 321.9 1251.5 325.4 1271.9 325.4 1292.2M699.6 74.2 699.6 175.7 665.6 196.0 635.6 216.2 608.9 236.6 608.9 338.1 585.0 358.4 544.1 378.7 510.3 398.9 481.9 419.2 457.7 439.6 418.7 459.9 382.1 480.2 340.9 500.4 336.7 520.8 332.8 541.0 329.0 561.4 329.0 581.6 325.4 602.0 325.4 622.2 321.9 642.6 321.9 662.9 318.6 683.1 318.6 845.6 315.4 865.9 315.4 1028.2 318.6 1048.6 315.4 1068.8 318.6 1089.2 318.6 1109.5 321.9 1129.8 318.6 1150.0 321.9 1170.4 318.6 1190.7 321.9 1211.0 318.6 1231.2 321.9 1251.5 321.9 1271.9 325.4 1292.2M699.6 74.2 699.6 256.9 665.6 277.1 635.6 297.5 608.9 317.8 585.0 338.1 563.5 358.4 544.1 378.7 495.5 398.9 457.7 419.2 418.7 439.6 376.0 459.9 354.4 480.2 345.2 500.4 340.9 520.8 332.8 541.0 329.0 561.4 329.0 581.6 325.4 602.0 325.4 622.2 321.9 642.6 321.9 683.1 318.6 703.5 318.6 906.5 315.4 926.8 315.4 1048.6 318.6 1068.8 315.4 1089.2 318.6 1109.5 315.4 1129.8 318.6 1150.0 315.4 1170.4 318.6 1190.7 315.4 1211.0 318.6 1231.2 318.6 1251.5 321.9 1271.9 318.6 1292.2M665.6 74.2 665.6 378.7 635.6 398.9 608.9 419.2 563.5 439.6 526.4 459.9 481.9 480.2 436.9 500.4 388.6 520.8 336.7 541.0 332.8 561.4 329.0 581.6 329.0 602.0 325.4 622.2 325.4 642.6 321.9 662.9 321.9 784.6 318.6 805.0 318.6 967.4 315.4 987.6 315.4 1089.2 312.3 1109.5 315.4 1129.8 312.3 1150.0 315.4 1170.4 312.3 1190.7 315.4 1211.0 312.3 1231.2 318.6 1251.5 315.4 1271.9 318.6 1292.2M665.6 74.2 665.6 256.9 635.6 277.1 635.6 398.9 585.0 419.2 526.4 439.6 469.3 459.9 410.5 480.2 340.9 500.4 336.7 520.8 332.8 541.0 329.0 561.4 325.4 581.6 325.4 602.0 321.9 622.2 321.9 662.9 318.6 683.1 318.6 825.2 315.4 845.6 315.4 987.6 318.6 1008.0 318.6 1068.8 321.9 1089.2 318.6 1109.5 321.9 1129.8 321.9 1150.0 325.4 1170.4 321.9 1190.7 325.4 1211.0 321.9 1231.2 325.4 1251.5 321.9 1271.9 329.0 1292.2M635.6 74.2 635.6 358.4 608.9 378.7 608.9 398.9 585.0 419.2 544.1 439.6 495.5 459.9 446.9 480.2 402.7 500.4 345.2 520.8 336.7 541.0 332.8 561.4 329.0 581.6 329.0 602.0 325.4 622.2 325.4 642.6 321.9 662.9 321.9 764.4 318.6 784.6 318.6 987.6 315.4 1008.0 318.6 1028.2 318.6 1089.2 321.9 1109.5 318.6 1129.8 321.9 1150.0 318.6 1170.4 321.9 1190.7 318.6 1211.0 321.9 1231.2 318.6 1251.5 325.4 1271.9 321.9 1292.2M635.6 74.2 635.6 216.2 608.9 236.6 608.9 358.4 585.0 378.7 544.1 398.9 510.3 419.2 481.9 439.6 446.9 459.9 418.7 480.2 382.1 500.4 354.4 520.8 336.7 541.0 332.8 561.4 329.0 581.6 325.4 602.0 325.4 642.6 321.9 662.9 321.9 723.8 318.6 744.1 318.6 967.4 315.4 987.6 315.4 1028.2 318.6 1048.6 315.4 1068.8 318.6 1089.2 315.4 1109.5 318.6 1129.8 315.4 1150.0 318.6 1170.4 315.4 1190.7 318.6 1211.0 315.4 1231.2 321.9 1251.5 318.6 1271.9 321.9 1292.2M665.6 74.2 665.6 175.7 635.6 196.0 608.9 216.2 585.0 236.6 563.5 256.9 544.1 277.1 526.4 297.5 510.3 317.8 495.5 338.1 481.9 358.4 446.9 378.7 427.5 398.9 402.7 419.2 382.1 439.6 370.2 459.9 354.4 480.2 345.2 500.4 340.9 520.8 336.7 541.0 329.0 561.4 329.0 581.6 325.4 602.0 325.4 622.2 321.9 642.6 321.9 703.5 318.6 723.8 318.6 926.8 315.4 947.1 315.4 1068.8 312.3 1089.2 315.4 1109.5 312.3 1129.8 315.4 1150.0 312.3 1170.4 315.4 1190.7 312.3 1211.0 315.4 1231.2 315.4 1251.5 318.6 1271.9 315.4 1292.2M665.6 74.2 665.6 216.2 635.6 236.6 608.9 256.9 585.0 277.1 563.5 297.5 544.1 317.8 526.4 338.1 510.3 358.4 495.5 378.7 469.3 398.9 427.5 419.2 402.7 439.6 370.2 459.9 354.4 480.2 345.2 500.4 340.9 520.8 332.8 541.0 329.0 561.4 329.0 581.6 325.4 602.0 325.4 622.2 321.9 642.6 321.9 683.1 318.6 703.5 318.6 906.5 315.4 926.8 318.6 947.1 318.6 1048.6 321.9 1068.8 318.6 1089.2 321.9 1109.5 321.9 1129.8 325.4 1150.0 321.9 1170.4 325.4 1190.7 321.9 1211.0 325.4 1231.2 321.9 1251.5 325.4 1271.9 325.4 1292.2M783.4 74.2 783.4 135.1 738.5 155.4 738.5 256.9 699.6 277.1 665.6 297.5 635.6 317.8 608.9 338.1 585.0 358.4 544.1 378.7 510.3 398.9 469.3 419.2 436.9 439.6 402.7 459.9 370.2 480.2 340.9 500.4 336.7 520.8 332.8 541.0 329.0 561.4 329.0 581.6 325.4 602.0 325.4 622.2 321.9 642.6 321.9 662.9 318.6 683.1 318.6 865.9 315.4 886.1 315.4 1028.2 318.6 1048.6 315.4 1068.8 318.6 1089.2 318.6 1109.5 321.9 1129.8 318.6 1150.0 321.9 1170.4 318.6 1190.7 321.9 1211.0 318.6 1231.2 321.9 1251.5 321.9 1271.9 325.4 1292.2M665.6 74.2 665.6 439.6 410.5 459.9 376.0 480.2 340.9 500.4 336.7 520.8 332.8 541.0 329.0 561.4 329.0 581.6 325.4 602.0 325.4 622.2 321.9 642.6 321.9 662.9 318.6 683.1 318.6 845.6 315.4 865.9 315.4 1048.6 318.6 1068.8 315.4 1089.2 318.6 1109.5 315.4 1129.8 318.6 1150.0 315.4 1170.4 318.6 1190.7 315.4 1211.0 318.6 1231.2 318.6 1251.5 321.9 1271.9 318.6 1292.2M665.6 74.2 665.6 175.7 635.6 196.0 635.6 439.6 608.9 459.9 544.1 480.2 446.9 500.4 340.9 520.8 336.7 541.0 332.8 561.4 329.0 581.6 325.4 602.0 325.4 642.6 321.9 662.9 321.9 744.1 318.6 764.4 318.6 926.8 315.4 947.1 315.4 1089.2 312.3 1109.5 315.4 1129.8 312.3 1150.0 315.4 1170.4 312.3 1190.7 315.4 1211.0 312.3 1231.2 318.6 1251.5 315.4 1271.9 318.6 1292.2M665.6 74.2 665.6 256.9 635.6 277.1 635.6 419.2 585.0 439.6 526.4 459.9 469.3 480.2 410.5 500.4 349.7 520.8 332.8 541.0 329.0 561.4 329.0 581.6 325.4 602.0 325.4 622.2 321.9 642.6 321.9 662.9 318.6 683.1 318.6 845.6 315.4 865.9 315.4 947.1 318.6 967.4 315.4 987.6 318.6 1008.0 318.6 1068.8 321.9 1089.2 318.6 1109.5 321.9 1129.8 321.9 1150.0 325.4 1170.4 321.9 1190.7 325.4 1211.0 321.9 1231.2 325.4 1251.5 321.9 1271.9 329.0 1292.2M665.6 74.2 665.6 378.7 635.6 398.9 635.6 439.6 563.5 459.9 457.7 480.2 345.2 500.4 340.9 520.8 332.8 541.0 329.0 561.4 329.0 581.6 325.4 602.0 325.4 622.2 321.9 642.6 321.9 683.1 318.6 703.5 318.6 906.5 315.4 926.8 318.6 947.1 315.4 967.4 318.6 987.6 315.4 1008.0 318.6 1028.2 315.4 1048.6 318.6 1068.8 318.6 1129.8 321.9 1150.0 318.6 1170.4 321.9 1190.7 318.6 1211.0 321.9 1231.2 318.6 1251.5 325.4 1271.9 321.9 1292.2M635.6 74.2 635.6 439.6 544.1 459.9 469.3 480.2 395.4 500.4 336.7 520.8 332.8 541.0 329.0 561.4 329.0 581.6 325.4 602.0 325.4 622.2 321.9 642.6 321.9 662.9 318.6 683.1 318.6 845.6 315.4 865.9 315.4 1068.8 318.6 1089.2 315.4 1109.5 318.6 1129.8 315.4 1150.0 318.6 1170.4 315.4 1190.7 318.6 1211.0 315.4 1231.2 321.9 1251.5 318.6 1271.9 321.9 1292.2M635.6 74.2 635.6 398.9 608.9 419.2 608.9 439.6 585.0 459.9 544.1 480.2 446.9 500.4 354.4 520.8 336.7 541.0 329.0 561.4 329.0 581.6 325.4 602.0 325.4 622.2 321.9 642.6 321.9 703.5 318.6 723.8 318.6 926.8 315.4 947.1 315.4 1068.8 312.3 1089.2 315.4 1109.5 312.3 1129.8 315.4 1150.0 312.3 1170.4 315.4 1190.7 312.3 1211.0 315.4 1231.2 315.4 1251.5 318.6 1271.9 315.4 1292.2M635.6 74.2 635.6 358.4 608.9 378.7 608.9 459.9 481.9 480.2 340.9 500.4 336.7 520.8 332.8 541.0 329.0 561.4 329.0 581.6 325.4 602.0 325.4 622.2 321.9 642.6 321.9 662.9 318.6 683.1 318.6 845.6 315.4 865.9 315.4 967.4 318.6 987.6 315.4 1008.0 318.6 1028.2 318.6 1048.6 321.9 1068.8 318.6 1089.2 321.9 1109.5 321.9 1129.8 325.4 1150.0 321.9 1170.4 325.4 1190.7 321.9 1211.0 325.4 1231.2 321.9 1251.5 325.4 1271.9 325.4 1292.2M738.5 74.2 738.5 317.8 699.6 338.1 665.6 358.4 635.6 378.7 608.9 398.9 608.9 439.6 427.5 459.9 376.0 480.2 340.9 500.4 336.7 520.8 332.8 541.0 329.0 561.4 329.0 581.6 325.4 602.0 325.4 622.2 321.9 642.6 321.9 662.9 318.6 683.1 318.6 845.6 315.4 865.9 315.4 1028.2 318.6 1048.6 315.4 1068.8 318.6 1089.2 318.6 1109.5 321.9 1129.8 318.6 1150.0 321.9 1170.4 318.6 1190.7 321.9 1211.0 318.6 1231.2 321.9 1251.5 321.9 1271.9 325.4 1292.2" fill="none" stroke="#000000" stroke-width="1.4"/>
<path d="M544.1 74.2 510.3 94.5 495.5 114.8 469.3 135.1 446.9 155.4 418.7 175.7 418.7 216.2 395.4 236.6 382.1 256.9 359.4 277.1 359.4 317.8 336.7 338.1 329.0 358.4 329.0 439.6 325.4 459.9 315.4 480.2 309.4 500.4 306.5 520.8 303.8 541.0 303.8 723.8 301.1 744.1 303.8 764.4 301.1 784.6 303.8 805.0 301.1 825.2 303.8 845.6 301.1 865.9 303.8 886.1 303.8 1292.2M510.3 74.2 510.3 114.8 481.9 135.1 481.9 155.4 457.7 175.7 436.9 196.0 410.5 216.2 388.6 236.6 388.6 256.9 370.2 277.1 354.4 297.5 349.7 317.8 340.9 338.1 340.9 398.9 325.4 419.2 315.4 439.6 312.3 459.9 306.5 480.2 303.8 500.4 301.1 520.8 303.8 541.0 301.1 561.4 303.8 581.6 303.8 744.1 301.1 764.4 303.8 784.6 303.8 805.0 306.5 825.2 303.8 845.6 306.5 865.9 303.8 886.1 306.5 906.5 303.8 926.8 303.8 967.4 306.5 987.6 303.8 1008.0 303.8 1170.4 306.5 1190.7 303.8 1211.0 306.5 1231.2 303.8 1251.5 306.5 1271.9 303.8 1292.2M510.3 74.2 510.3 317.8 495.5 338.1 457.7 358.4 436.9 378.7 402.7 398.9 402.7 419.2 376.0 439.6 354.4 459.9 332.8 480.2 315.4 500.4 312.3 520.8 309.4 541.0 309.4 561.4 306.5 581.6 309.4 602.0 306.5 622.2 309.4 642.6 306.5 662.9 309.4 683.1 306.5 703.5 309.4 723.8 306.5 744.1 309.4 764.4 306.5 784.6 306.5 845.6 303.8 865.9 306.5 886.1 306.5 926.8 303.8 947.1 306.5 967.4 306.5 1008.0 303.8 1028.2 306.5 1048.6 306.5 1089.2 303.8 1109.5 306.5 1129.8 306.5 1190.7 309.4 1211.0 306.5 1231.2 306.5 1292.2M495.5 74.2 495.5 216.2 481.9 236.6 481.9 256.9 469.3 277.1 446.9 297.5 446.9 338.1 418.7 358.4 388.6 378.7 354.4 398.9 336.7 419.2 312.3 439.6 312.3 459.9 309.4 480.2 306.5 500.4 303.8 520.8 303.8 541.0 301.1 561.4 303.8 581.6 301.1 602.0 301.1 622.2 298.5 642.6 301.1 662.9 301.1 805.0 303.8 825.2 301.1 845.6 303.8 865.9 301.1 886.1 303.8 906.5 303.8 1008.0 306.5 1028.2 303.8 1048.6 303.8 1089.2 306.5 1109.5 303.8 1129.8 306.5 1150.0 303.8 1170.4 306.5 1190.7 303.8 1211.0 306.5 1231.2 303.8 1251.5 306.5 1271.9 303.8 1292.2M481.9 74.2 481.9 135.1 457.7 155.4 436.9 175.7 436.9 216.2 418.7 236.6 395.4 256.9 382.1 277.1 382.1 317.8 364.7 338.1 349.7 358.4 332.8 378.7 332.8 398.9 315.4 419.2 315.4 459.9 312.3 480.2 309.4 500.4 306.5 520.8 303.8 541.0 306.5 561.4 303.8 581.6 306.5 602.0 306.5 622.2 309.4 642.6 306.5 662.9 309.4 683.1 309.4 723.8 306.5 744.1 309.4 764.4 309.4 1008.0 306.5 1028.2 309.4 1048.6 306.5 1068.8 306.5 1109.5 309.4 1129.8 306.5 1150.0 306.5 1251.5 303.8 1271.9 306.5 1292.2M481.9 74.2 481.9 277.1 457.7 297.5 436.9 317.8 410.5 338.1 410.5 358.4 382.1 378.7 359.4 398.9 329.0 419.2 312.3 439.6 312.3 459.9 309.4 480.2 306.5 500.4 306.5 581.6 303.8 602.0 306.5 622.2 306.5 865.9 303.8 886.1 306.5 906.5 303.8 926.8 306.5 947.1 303.8 967.4 306.5 987.6 303.8 1008.0 303.8 1048.6 306.5 1068.8 303.8 1089.2 306.5 1109.5 303.8 1129.8 306.5 1150.0 303.8 1170.4 306.5 1190.7 303.8 1211.0 306.5 1231.2 303.8 1251.5 306.5 1271.9 303.8 1292.2M469.3 74.2 469.3 175.7 446.9 196.0 427.5 216.2 427.5 256.9 402.7 277.1 388.6 297.5 376.0 317.8 354.4 338.1 340.9 358.4 332.8 378.7 325.4 398.9 325.4 419.2 315.4 439.6 312.3 459.9 306.5 480.2 301.1 500.4 301.1 520.8 298.5 541.0 298.5 561.4 296.1 581.6 298.5 602.0 296.1 622.2 298.5 642.6 298.5 784.6 301.1 805.0 298.5 825.2 301.1 845.6 301.1 906.5 303.8 926.8 301.1 947.1 301.1 987.6 303.8 1008.0 301.1 1028.2 303.8 1048.6 301.1 1068.8 303.8 1089.2 303.8 1129.8 301.1 1150.0 303.8 1170.4 301.1 1190.7 303.8 1211.0 303.8 1251.5 301.1 1271.9 303.8 1292.2M457.7 74.2 457.7 236.6 436.9 256.9 418.7 277.1 418.7 297.5 388.6 317.8 359.4 338.1 332.8 358.4 325.4 378.7 321.9 398.9 315.4 419.2 315.4 459.9 312.3 480.2 309.4 500.4 303.8 520.8 306.5 541.0 303.8 561.4 303.8 622.2 301.1 642.6 303.8 662.9 301.1 683.1 303.8 703.5 301.1 723.8 303.8 744.1 303.8 926.8 306.5 947.1 303.8 967.4 306.5 987.6 303.8 1008.0 306.5 1028.2 303.8 1048.6 303.8 1089.2 306.5 1109.5 303.8 1129.8 306.5 1150.0 306.5 1190.7 303.8 1211.0 306.5 1231.2 306.5 1271.9 303.8 1292.2M446.9 74.2 446.9 155.4 427.5 175.7 418.7 196.0 410.5 216.2 395.4 236.6 376.0 256.9 359.4 277.1 349.7 297.5 345.2 317.8 340.9 338.1 332.8 358.4 329.0 378.7 329.0 398.9 318.6 419.2 315.4 439.6 312.3 459.9 309.4 480.2 303.8 500.4 303.8 520.8 301.1 541.0 301.1 602.0 298.5 622.2 301.1 642.6 298.5 662.9 301.1 683.1 301.1 723.8 298.5 744.1 301.1 764.4 301.1 947.1 303.8 967.4 301.1 987.6 303.8 1008.0 303.8 1150.0 306.5 1170.4 303.8 1190.7 306.5 1211.0 303.8 1231.2 303.8 1271.9 306.5 1292.2M446.9 74.2 446.9 297.5 418.7 317.8 418.7 378.7 395.4 398.9 370.2 419.2 370.2 439.6 349.7 459.9 329.0 480.2 315.4 500.4 309.4 520.8 309.4 541.0 306.5 561.4 309.4 581.6 306.5 602.0 309.4 622.2 306.5 642.6 309.4 662.9 306.5 683.1 309.4 703.5 306.5 723.8 309.4 744.1 309.4 805.0 312.3 825.2 309.4 845.6 309.4 1109.5 306.5 1129.8 309.4 1150.0 306.5 1170.4 309.4 1190.7 306.5 1211.0 309.4 1231.2 306.5 1251.5 309.4 1271.9 306.5 1292.2M436.9 74.2 436.9 216.2 418.7 236.6 402.7 256.9 388.6 277.1 364.7 297.5 345.2 317.8 345.2 338.1 329.0 358.4 325.4 378.7 325.4 398.9 318.6 419.2 312.3 439.6 312.3 480.2 309.4 500.4 309.4 520.8 306.5 541.0 309.4 561.4 306.5 581.6 306.5 642.6 303.8 662.9 306.5 683.1 303.8 703.5 306.5 723.8 303.8 744.1 306.5 764.4 303.8 784.6 306.5 805.0 306.5 886.1 303.8 906.5 306.5 926.8 306.5 967.4 303.8 987.6 306.5 1008.0 303.8 1028.2 303.8 1292.2M427.5 74.2 427.5 317.8 410.5 338.1 410.5 358.4 395.4 378.7 370.2 398.9 370.2 439.6 349.7 459.9 325.4 480.2 309.4 500.4 301.1 520.8 301.1 541.0 298.5 561.4 301.1 581.6 298.5 602.0 301.1 622.2 298.5 642.6 298.5 683.1 301.1 703.5 298.5 723.8 301.1 744.1 301.1 845.6 303.8 865.9 301.1 886.1 303.8 906.5 301.1 926.8 303.8 947.1 301.1 967.4 303.8 987.6 301.1 1008.0 303.8 1028.2 301.1 1048.6 303.8 1068.8 301.1 1089.2 301.1 1129.8 303.8 1150.0 301.1 1170.4 303.8 1190.7 301.1 1211.0 303.8 1231.2 301.1 1251.5 303.8 1271.9 301.1 1292.2M418.7 74.2 418.7 196.0 402.7 216.2 382.1 236.6 370.2 256.9 370.2 297.5 354.4 317.8 340.9 338.1 329.0 358.4 329.0 378.7 318.6 398.9 315.4 419.2 315.4 459.9 312.3 480.2 309.4 500.4 309.4 520.8 306.5 541.0 309.4 561.4 306.5 581.6 306.5 662.9 309.4 683.1 306.5 703.5 309.4 723.8 306.5 744.1 306.5 845.6 303.8 865.9 306.5 886.1 303.8 906.5 306.5 926.8 303.8 947.1 306.5 967.4 303.8 987.6 306.5 1008.0 306.5 1028.2 309.4 1048.6 306.5 1068.8 309.4 1089.2 306.5 1109.5 306.5 1231.2 309.4 1251.5 306.5 1271.9 306.5 1292.2M410.5 74.2 410.5 317.8 388.6 338.1 376.0 358.4 364.7 378.7 345.2 398.9 321.9 419.2 312.3 439.6 312.3 459.9 309.4 480.2 306.5 500.4 303.8 520.8 303.8 541.0 301.1 561.4 301.1 642.6 303.8 662.9 303.8 683.1 306.5 703.5 303.8 723.8 303.8 764.4 306.5 784.6 303.8 805.0 303.8 845.6 306.5 865.9 306.5 987.6 303.8 1008.0 306.5 1028.2 303.8 1048.6 306.5 1068.8 303.8 1089.2 306.5 1109.5 303.8 1129.8 306.5 1150.0 303.8 1170.4 306.5 1190.7 303.8 1211.0 306.5 1231.2 303.8 1251.5 306.5 1271.9 303.8 1292.2M402.7 74.2 402.7 216.2 388.6 236.6 388.6 256.9 370.2 277.1 354.4 297.5 354.4 338.1 345.2 358.4 332.8 378.7 318.6 398.9 315.4 419.2 312.3 439.6 312.3 480.2 309.4 500.4 309.4 520.8 306.5 541.0 306.5 561.4 303.8 581.6 306.5 602.0 306.5 642.6 303.8 662.9 306.5 683.1 303.8 703.5 306.5 723.8 303.8 744.1 306.5 764.4 306.5 825.2 309.4 845.6 306.5 865.9 309.4 886.1 306.5 906.5 309.4 926.8 306.5 947.1 309.4 967.4 309.4 1008.0 306.5 1028.2 309.4 1048.6 306.5 1068.8 309.4 1089.2 306.5 1109.5 309.4 1129.8 306.5 1150.0 309.4 1170.4 306.5 1190.7 309.4 1211.0 306.5 1231.2 306.5 1292.2M395.4 74.2 395.4 297.5 376.0 317.8 376.0 338.1 359.4 358.4 359.4 378.7 340.9 398.9 340.9 439.6 332.8 459.9 318.6 480.2 312.3 500.4 306.5 520.8 306.5 541.0 303.8 561.4 306.5 581.6 303.8 602.0 306.5 622.2 303.8 642.6 303.8 662.9 301.1 683.1 303.8 703.5 303.8 744.1 301.1 764.4 303.8 784.6 301.1 805.0 303.8 825.2 303.8 845.6 306.5 865.9 303.8 886.1 306.5 906.5 303.8 926.8 306.5 947.1 303.8 967.4 306.5 987.6 306.5 1109.5 303.8 1129.8 306.5 1150.0 303.8 1170.4 306.5 1190.7 303.8 1211.0 306.5 1231.2 303.8 1251.5 306.5 1271.9 303.8 1292.2M382.1 74.2 382.1 135.1 364.7 155.4 359.4 175.7 359.4 216.2 354.4 236.6 349.7 256.9 349.7 297.5 340.9 317.8 340.9 358.4 329.0 378.7 321.9 398.9 321.9 439.6 318.6 459.9 312.3 480.2 309.4 500.4 309.4 520.8 306.5 541.0 306.5 561.4 303.8 581.6 306.5 602.0 303.8 622.2 306.5 642.6 303.8 662.9 306.5 683.1 306.5 1028.2 309.4 1048.6 306.5 1068.8 309.4 1089.2 306.5 1109.5 309.4 1129.8 306.5 1150.0 309.4 1170.4 306.5 1190.7 309.4 1211.0 306.5 1231.2 309.4 1251.5 306.5 1271.9 309.4 1292.2M376.0 74.2 376.0 196.0 370.2 216.2 370.2 277.1 359.4 297.5 349.7 317.8 340.9 338.1 332.8 358.4 329.0 378.7 325.4 398.9 325.4 439.6 318.6 459.9 309.4 480.2 306.5 500.4 301.1 520.8 301.1 541.0 298.5 561.4 301.1 581.6 298.5 602.0 298.5 642.6 301.1 662.9 298.5 683.1 301.1 703.5 298.5 723.8 301.1 744.1 298.5 764.4 301.1 784.6 301.1 825.2 298.5 845.6 301.1 865.9 301.1 926.8 303.8 947.1 301.1 967.4 301.1 1008.0 303.8 1028.2 301.1 1048.6 303.8 1068.8 301.1 1089.2 303.8 1109.5 301.1 1129.8 303.8 1150.0 301.1 1170.4 303.8 1190.7 303.8 1251.5 306.5 1271.9 303.8 1292.2M364.7 74.2 364.7 196.0 354.4 216.2 349.7 236.6 349.7 256.9 340.9 277.1 336.7 297.5 332.8 317.8 329.0 338.1 329.0 398.9 318.6 419.2 312.3 439.6 312.3 480.2 309.4 500.4 309.4 520.8 306.5 541.0 309.4 561.4 309.4 602.0 306.5 622.2 309.4 642.6 306.5 662.9 306.5 703.5 309.4 723.8 306.5 744.1 306.5 805.0 303.8 825.2 306.5 845.6 303.8 865.9 306.5 886.1 306.5 926.8 303.8 947.1 306.5 967.4 306.5 1089.2 303.8 1109.5 306.5 1129.8 303.8 1150.0 306.5 1170.4 306.5 1271.9 309.4 1292.2M427.5 74.2 427.5 317.8 410.5 338.1 410.5 378.7 388.6 398.9 364.7 419.2 349.7 439.6 336.7 459.9 318.6 480.2 306.5 500.4 298.5 520.8 301.1 541.0 298.5 561.4 298.5 602.0 301.1 622.2 298.5 642.6 301.1 662.9 298.5 683.1 301.1 703.5 301.1 723.8 303.8 744.1 301.1 764.4 303.8 784.6 301.1 805.0 301.1 825.2 298.5 845.6 301.1 865.9 301.1 886.1 303.8 906.5 301.1 926.8 301.1 967.4 303.8 987.6 301.1 1008.0 301.1 1048.6 303.8 1068.8 301.1 1089.2 303.8 1109.5 303.8 1292.2M469.3 74.2 469.3 277.1 457.7 297.5 436.9 317.8 436.9 338.1 410.5 358.4 395.4 378.7 370.2 398.9 336.7 419.2 336.7 439.6 329.0 459.9 318.6 480.2 306.5 500.4 303.8 520.8 301.1 541.0 303.8 561.4 301.1 581.6 303.8 602.0 303.8 662.9 306.5 683.1 303.8 703.5 306.5 723.8 303.8 744.1 306.5 764.4 303.8 784.6 306.5 805.0 303.8 825.2 306.5 845.6 303.8 865.9 306.5 886.1 303.8 906.5 306.5 926.8 303.8 947.1 306.5 967.4 303.8 987.6 303.8 1089.2 301.1 1109.5 303.8 1129.8 303.8 1190.7 306.5 1211.0 303.8 1231.2 303.8 1292.2M395.4 74.2 395.4 216.2 382.1 236.6 364.7 256.9 349.7 277.1 345.2 297.5 340.9 317.8 340.9 358.4 329.0 378.7 321.9 398.9 318.6 419.2 312.3 439.6 312.3 459.9 309.4 480.2 309.4 500.4 306.5 520.8 306.5 541.0 303.8 561.4 306.5 581.6 301.1 602.0 303.8 622.2 303.8 642.6 306.5 662.9 303.8 683.1 303.8 703.5 301.1 723.8 303.8 744.1 301.1 764.4 303.8 784.6 303.8 845.6 306.5 865.9 303.8 886.1 303.8 926.8 306.5 947.1 303.8 967.4 306.5 987.6 303.8 1008.0 306.5 1028.2 303.8 1048.6 306.5 1068.8 303.8 1089.2 306.5 1109.5 303.8 1129.8 306.5 1150.0 306.5 1292.2M436.9 74.2 436.9 114.8 418.7 135.1 410.5 155.4 395.4 175.7 376.0 196.0 376.0 256.9 359.4 277.1 345.2 297.5 336.7 317.8 332.8 338.1 332.8 358.4 325.4 378.7 318.6 398.9 318.6 419.2 312.3 439.6 312.3 459.9 309.4 480.2 306.5 500.4 306.5 520.8 303.8 541.0 303.8 662.9 306.5 683.1 303.8 703.5 303.8 865.9 306.5 886.1 303.8 906.5 306.5 926.8 303.8 947.1 306.5 967.4 303.8 987.6 306.5 1008.0 303.8 1028.2 306.5 1048.6 306.5 1211.0 303.8 1231.2 306.5 1251.5 303.8 1271.9 306.5 1292.2M418.7 74.2 418.7 114.8 402.7 135.1 402.7 155.4 395.4 175.7 395.4 196.0 382.1 216.2 376.0 236.6 359.4 256.9 345.2 277.1 336.7 297.5 332.8 317.8 332.8 338.1 325.4 358.4 321.9 378.7 321.9 439.6 318.6 459.9 315.4 480.2 312.3 500.4 309.4 520.8 309.4 541.0 306.5 561.4 309.4 581.6 306.5 602.0 306.5 622.2 303.8 642.6 306.5 662.9 303.8 683.1 306.5 703.5 306.5 744.1 303.8 764.4 306.5 784.6 303.8 805.0 306.5 825.2 303.8 845.6 306.5 865.9 306.5 926.8 309.4 947.1 306.5 967.4 309.4 987.6 309.4 1028.2 306.5 1048.6 309.4 1068.8 309.4 1109.5 306.5 1129.8 309.4 1150.0 306.5 1170.4 309.4 1190.7 306.5 1211.0 309.4 1231.2 306.5 1251.5 309.4 1271.9 306.5 1292.2M457.7 74.2 457.7 236.6 446.9 256.9 446.9 297.5 436.9 317.8 418.7 338.1 402.7 358.4 402.7 398.9 388.6 419.2 370.2 439.6 354.4 459.9 329.0 480.2 312.3 500.4 309.4 520.8 306.5 541.0 306.5 602.0 303.8 622.2 306.5 642.6 303.8 662.9 303.8 784.6 306.5 805.0 303.8 825.2 306.5 845.6 303.8 865.9 306.5 886.1 306.5 926.8 303.8 947.1 306.5 967.4 303.8 987.6 306.5 1008.0 303.8 1028.2 306.5 1048.6 306.5 1068.8 309.4 1089.2 306.5 1109.5 306.5 1271.9 309.4 1292.2M418.7 74.2 418.7 297.5 395.4 317.8 370.2 338.1 349.7 358.4 349.7 398.9 329.0 419.2 329.0 439.6 325.4 459.9 318.6 480.2 315.4 500.4 312.3 520.8 312.3 541.0 309.4 561.4 312.3 581.6 309.4 602.0 309.4 642.6 312.3 662.9 309.4 683.1 309.4 723.8 312.3 744.1 309.4 764.4 309.4 947.1 306.5 967.4 309.4 987.6 309.4 1028.2 306.5 1048.6 309.4 1068.8 306.5 1089.2 309.4 1109.5 306.5 1129.8 309.4 1150.0 306.5 1170.4 309.4 1190.7 306.5 1211.0 309.4 1231.2 306.5 1251.5 309.4 1271.9 306.5 1292.2M382.1 74.2 382.1 135.1 370.2 155.4 370.2 196.0 364.7 216.2 359.4 236.6 359.4 297.5 345.2 317.8 345.2 338.1 332.8 358.4 325.4 378.7 321.9 398.9 321.9 419.2 312.3 439.6 312.3 459.9 309.4 480.2 306.5 500.4 306.5 520.8 303.8 541.0 303.8 561.4 301.1 581.6 301.1 622.2 303.8 642.6 301.1 662.9 303.8 683.1 301.1 703.5 303.8 723.8 303.8 744.1 306.5 764.4 303.8 784.6 306.5 805.0 303.8 825.2 306.5 845.6 303.8 865.9 303.8 906.5 306.5 926.8 303.8 947.1 306.5 967.4 306.5 1008.0 303.8 1028.2 306.5 1048.6 303.8 1068.8 306.5 1089.2 303.8 1109.5 306.5 1129.8 303.8 1150.0 306.5 1170.4 303.8 1190.7 306.5 1211.0 303.8 1231.2 306.5 1251.5 303.8 1271.9 306.5 1292.2M446.9 74.2 446.9 297.5 418.7 317.8 395.4 338.1 382.1 358.4 364.7 378.7 354.4 398.9 354.4 439.6 340.9 459.9 321.9 480.2 309.4 500.4 303.8 520.8 303.8 541.0 301.1 561.4 303.8 581.6 298.5 602.0 301.1 622.2 301.1 642.6 303.8 662.9 301.1 683.1 303.8 703.5 303.8 744.1 301.1 764.4 303.8 784.6 301.1 805.0 303.8 825.2 301.1 845.6 303.8 865.9 301.1 886.1 303.8 906.5 301.1 926.8 303.8 947.1 303.8 1068.8 301.1 1089.2 303.8 1109.5 303.8 1292.2M418.7 74.2 418.7 297.5 388.6 317.8 376.0 338.1 349.7 358.4 325.4 378.7 325.4 419.2 312.3 439.6 312.3 459.9 309.4 480.2 306.5 500.4 306.5 520.8 303.8 541.0 303.8 561.4 301.1 581.6 301.1 703.5 303.8 723.8 301.1 744.1 303.8 764.4 301.1 784.6 303.8 805.0 303.8 845.6 301.1 865.9 303.8 886.1 301.1 906.5 303.8 926.8 301.1 947.1 303.8 967.4 301.1 987.6 303.8 1008.0 303.8 1068.8 306.5 1089.2 303.8 1109.5 306.5 1129.8 303.8 1150.0 306.5 1170.4 303.8 1190.7 306.5 1211.0 303.8 1231.2 306.5 1251.5 303.8 1271.9 306.5 1292.2M370.2 74.2 370.2 277.1 354.4 297.5 336.7 317.8 329.0 338.1 329.0 378.7 318.6 398.9 318.6 419.2 312.3 439.6 312.3 500.4 309.4 520.8 309.4 581.6 306.5 602.0 309.4 622.2 306.5 642.6 309.4 662.9 306.5 683.1 309.4 703.5 306.5 723.8 309.4 744.1 309.4 784.6 306.5 805.0 309.4 825.2 309.4 1109.5 306.5 1129.8 309.4 1150.0 306.5 1170.4 309.4 1190.7 306.5 1211.0 309.4 1231.2 306.5 1251.5 309.4 1271.9 306.5 1292.2M388.6 74.2 388.6 114.8 376.0 135.1 370.2 155.4 370.2 216.2 359.4 236.6 359.4 256.9 354.4 277.1 349.7 297.5 345.2 317.8 345.2 378.7 332.8 398.9 318.6 419.2 318.6 439.6 315.4 459.9 312.3 480.2 306.5 500.4 306.5 520.8 303.8 541.0 306.5 561.4 303.8 581.6 303.8 602.0 301.1 622.2 303.8 642.6 303.8 662.9 306.5 683.1 303.8 703.5 306.5 723.8 303.8 744.1 306.5 764.4 303.8 784.6 306.5 805.0 303.8 825.2 303.8 865.9 306.5 886.1 303.8 906.5 306.5 926.8 303.8 947.1 306.5 967.4 306.5 1008.0 303.8 1028.2 306.5 1048.6 303.8 1068.8 306.5 1089.2 303.8 1109.5 306.5 1129.8 303.8 1150.0 306.5 1170.4 303.8 1190.7 306.5 1211.0 303.8 1231.2 306.5 1251.5 303.8 1271.9 306.5 1292.2M370.2 74.2 370.2 236.6 364.7 256.9 359.4 277.1 359.4 317.8 340.9 338.1 336.7 358.4 329.0 378.7 325.4 398.9 325.4 439.6 318.6 459.9 312.3 480.2 306.5 500.4 303.8 520.8 303.8 541.0 301.1 561.4 303.8 581.6 301.1 602.0 303.8 622.2 301.1 642.6 303.8 662.9 303.8 703.5 301.1 723.8 303.8 744.1 303.8 865.9 301.1 886.1 303.8 906.5 303.8 1008.0 306.5 1028.2 303.8 1048.6 306.5 1068.8 303.8 1089.2 306.5 1109.5 303.8 1129.8 303.8 1170.4 306.5 1190.7 303.8 1211.0 303.8 1292.2M495.5 74.2 495.5 317.8 481.9 338.1 469.3 358.4 457.7 378.7 457.7 398.9 446.9 419.2 446.9 439.6 388.6 459.9 340.9 480.2 312.3 500.4 306.5 520.8 303.8 541.0 303.8 561.4 301.1 581.6 303.8 602.0 303.8 703.5 306.5 723.8 303.8 744.1 306.5 764.4 303.8 784.6 306.5 805.0 303.8 825.2 303.8 886.1 301.1 906.5 303.8 926.8 301.1 947.1 303.8 967.4 301.1 987.6 303.8 1008.0 301.1 1028.2 303.8 1048.6 303.8 1068.8 306.5 1089.2 303.8 1109.5 306.5 1129.8 303.8 1150.0 306.5 1170.4 303.8 1190.7 306.5 1211.0 303.8 1231.2 306.5 1251.5 303.8 1271.9 306.5 1292.2M388.6 74.2 388.6 236.6 359.4 256.9 359.4 277.1 345.2 297.5 340.9 317.8 332.8 338.1 329.0 358.4 325.4 378.7 321.9 398.9 318.6 419.2 312.3 439.6 312.3 459.9 309.4 480.2 306.5 500.4 303.8 520.8 303.8 561.4 306.5 581.6 303.8 602.0 306.5 622.2 306.5 703.5 303.8 723.8 306.5 744.1 306.5 764.4 309.4 784.6 306.5 805.0 306.5 865.9 303.8 886.1 306.5 906.5 303.8 926.8 303.8 967.4 306.5 987.6 306.5 1028.2 303.8 1048.6 306.5 1068.8 306.5 1109.5 303.8 1129.8 306.5 1150.0 303.8 1170.4 306.5 1190.7 303.8 1211.0 306.5 1231.2 303.8 1251.5 306.5 1271.9 306.5 1292.2M446.9 74.2 446.9 216.2 427.5 236.6 410.5 256.9 388.6 277.1 388.6 317.8 370.2 338.1 354.4 358.4 354.4 378.7 329.0 398.9 329.0 439.6 321.9 459.9 312.3 480.2 303.8 500.4 301.1 520.8 298.5 541.0 301.1 561.4 301.1 602.0 298.5 622.2 301.1 642.6 301.1 703.5 303.8 723.8 301.1 744.1 303.8 764.4 301.1 784.6 303.8 805.0 303.8 967.4 301.1 987.6 303.8 1008.0 301.1 1028.2 303.8 1048.6 301.1 1068.8 303.8 1089.2 301.1 1109.5 303.8 1129.8 303.8 1292.2" fill="none" stroke="#00ffff" stroke-width="1.4"/>
<path d="M155.3 1485.0v-14.5M155.3 64.0v14.5M356.9 1485.0v-14.5M356.9 64.0v14.5M558.4 1485.0v-14.5M558.4 64.0v14.5M760.0 1485.0v-14.5M760.0 64.0v14.5M961.5 1485.0v-14.5M961.5 64.0v14.5M155.3 64.0h14.5M961.5 64.0h-14.5M155.3 267.0h14.5M961.5 267.0h-14.5M155.3 470.0h14.5M961.5 470.0h-14.5M155.3 673.0h14.5M961.5 673.0h-14.5M155.3 876.0h14.5M961.5 876.0h-14.5M155.3 1079.0h14.5M961.5 1079.0h-14.5M155.3 1282.0h14.5M961.5 1282.0h-14.5M155.3 1485.0h14.5M961.5 1485.0h-14.5" stroke="#262626" stroke-width="1.7" fill="none"/>
<rect x="155.3" y="64.0" width="806.2" height="1421.0" fill="none" stroke="#262626" stroke-width="1.9"/>
<g font-size="40" fill="#262626"><text x="155.3" y="1536.6" text-anchor="middle">0</text>
<text x="356.9" y="1536.6" text-anchor="middle">1</text>
<text x="558.4" y="1536.6" text-anchor="middle">2</text>
<text x="760.0" y="1536.6" text-anchor="middle">3</text>
<text x="961.5" y="1536.6" text-anchor="middle">4</text>
<text x="138.1" y="78.3" text-anchor="end">0</text>
<text x="123.5" y="281.3" text-anchor="end">-10</text>
<text x="123.5" y="484.3" text-anchor="end">-20</text>
<text x="123.5" y="687.3" text-anchor="end">-30</text>
<text x="123.5" y="890.3" text-anchor="end">-40</text>
<text x="123.5" y="1093.3" text-anchor="end">-50</text>
<text x="123.5" y="1296.3" text-anchor="end">-60</text>
<text x="123.5" y="1499.3" text-anchor="end">-70</text></g>
<path d="M1377.8 64.0V1485.0M1538.9 64.0V1485.0M1699.9 64.0V1485.0M1861.0 64.0V1485.0M1216.8 267.0H2022.0M1216.8 470.0H2022.0M1216.8 673.0H2022.0M1216.8 876.0H2022.0M1216.8 1079.0H2022.0M1216.8 1282.0H2022.0" stroke="#dfdfdf" stroke-width="1.5" fill="none"/>
<circle cx="1408.8" cy="104.6" r="14.3" fill="#ff0000" stroke="#0072bd" stroke-width="1.6"/>
<circle cx="1362.5" cy="267.0" r="14.3" fill="#ff0000" stroke="#0072bd" stroke-width="1.6"/>
<circle cx="1377.4" cy="368.5" r="14.3" fill="#ff0000" stroke="#0072bd" stroke-width="1.6"/>
<circle cx="1285.1" cy="571.5" r="14.3" fill="#ff0000" stroke="#0072bd" stroke-width="1.6"/>
<circle cx="1298.3" cy="571.5" r="14.3" fill="#ff0000" stroke="#0072bd" stroke-width="1.6"/>
<circle cx="1247.1" cy="733.9" r="14.3" fill="#ff0000" stroke="#0072bd" stroke-width="1.6"/>
<circle cx="1253.5" cy="774.5" r="14.3" fill="#ff0000" stroke="#0072bd" stroke-width="1.6"/>
<circle cx="1415.7" cy="104.6" r="14.3" fill="#ffaa00" stroke="#d95319" stroke-width="1.6"/>
<circle cx="1465.6" cy="104.6" r="14.3" fill="#ffaa00" stroke="#d95319" stroke-width="1.6"/>
<circle cx="1279.9" cy="693.3" r="14.3" fill="#ffaa00" stroke="#d95319" stroke-width="1.6"/>
<circle cx="1319.2" cy="713.6" r="14.3" fill="#ffaa00" stroke="#d95319" stroke-width="1.6"/>
<circle cx="1307.8" cy="855.7" r="14.3" fill="#ffaa00" stroke="#d95319" stroke-width="1.6"/>
<circle cx="1306.2" cy="876.0" r="14.3" fill="#ffaa00" stroke="#d95319" stroke-width="1.6"/>
<circle cx="1315.0" cy="876.0" r="14.3" fill="#ffaa00" stroke="#d95319" stroke-width="1.6"/>
<circle cx="1442.3" cy="104.6" r="14.3" fill="#aaff00" stroke="#edb120" stroke-width="1.6"/>
<circle cx="1479.3" cy="104.6" r="14.3" fill="#aaff00" stroke="#edb120" stroke-width="1.6"/>
<circle cx="1545.0" cy="104.6" r="14.3" fill="#aaff00" stroke="#edb120" stroke-width="1.6"/>
<circle cx="1612.0" cy="104.6" r="14.3" fill="#aaff00" stroke="#edb120" stroke-width="1.6"/>
<circle cx="1381.2" cy="429.4" r="14.3" fill="#aaff00" stroke="#edb120" stroke-width="1.6"/>
<circle cx="1368.8" cy="470.0" r="14.3" fill="#aaff00" stroke="#edb120" stroke-width="1.6"/>
<circle cx="1294.4" cy="510.6" r="14.3" fill="#aaff00" stroke="#edb120" stroke-width="1.6"/>
<circle cx="1316.2" cy="510.6" r="14.3" fill="#aaff00" stroke="#edb120" stroke-width="1.6"/>
<circle cx="1527.1" cy="104.6" r="14.3" fill="#00ff00" stroke="#7e2f8e" stroke-width="1.6"/>
<circle cx="1328.7" cy="794.8" r="14.3" fill="#00ff00" stroke="#7e2f8e" stroke-width="1.6"/>
<circle cx="1386.1" cy="104.6" r="14.3" fill="#00ffaa" stroke="#77ac30" stroke-width="1.6"/>
<circle cx="1369.6" cy="267.0" r="14.3" fill="#00ffaa" stroke="#77ac30" stroke-width="1.6"/>
<circle cx="1281.2" cy="470.0" r="14.3" fill="#00ffaa" stroke="#77ac30" stroke-width="1.6"/>
<circle cx="1252.1" cy="673.0" r="14.3" fill="#00ffaa" stroke="#77ac30" stroke-width="1.6"/>
<circle cx="1350.9" cy="470.0" r="14.3" fill="#00aaff" stroke="#4dbeee" stroke-width="1.6"/>
<circle cx="1307.6" cy="571.5" r="14.3" fill="#00aaff" stroke="#4dbeee" stroke-width="1.6"/>
<circle cx="1303.0" cy="673.0" r="14.3" fill="#00aaff" stroke="#4dbeee" stroke-width="1.6"/>
<circle cx="1295.9" cy="774.5" r="14.3" fill="#00aaff" stroke="#4dbeee" stroke-width="1.6"/>
<circle cx="1322.8" cy="774.5" r="14.3" fill="#00aaff" stroke="#4dbeee" stroke-width="1.6"/>
<circle cx="1311.3" cy="876.0" r="14.3" fill="#00aaff" stroke="#4dbeee" stroke-width="1.6"/>
<circle cx="1281.9" cy="977.5" r="14.3" fill="#00aaff" stroke="#4dbeee" stroke-width="1.6"/>
<circle cx="1412.8" cy="104.6" r="14.3" fill="#0000ff" stroke="#a2142f" stroke-width="1.6"/>
<circle cx="1417.6" cy="267.0" r="14.3" fill="#0000ff" stroke="#a2142f" stroke-width="1.6"/>
<circle cx="1312.5" cy="673.0" r="14.3" fill="#0000ff" stroke="#a2142f" stroke-width="1.6"/>
<circle cx="1283.3" cy="1079.0" r="14.3" fill="#0000ff" stroke="#a2142f" stroke-width="1.6"/>
<circle cx="1449.8" cy="104.6" r="14.3" fill="#aa00ff" stroke="#0072bd" stroke-width="1.6"/>
<circle cx="1517.6" cy="104.6" r="14.3" fill="#aa00ff" stroke="#0072bd" stroke-width="1.6"/>
<circle cx="1391.2" cy="470.0" r="14.3" fill="#aa00ff" stroke="#0072bd" stroke-width="1.6"/>
<circle cx="1376.6" cy="530.9" r="14.3" fill="#aa00ff" stroke="#0072bd" stroke-width="1.6"/>
<circle cx="1362.5" cy="571.5" r="14.3" fill="#aa00ff" stroke="#0072bd" stroke-width="1.6"/>
<circle cx="1320.8" cy="591.8" r="14.3" fill="#aa00ff" stroke="#0072bd" stroke-width="1.6"/>
<circle cx="1454.7" cy="206.1" r="14.3" fill="#ff00aa" stroke="#d95319" stroke-width="1.6"/>
<circle cx="1425.3" cy="368.5" r="14.3" fill="#ff00aa" stroke="#d95319" stroke-width="1.6"/>
<circle cx="1317.6" cy="571.5" r="14.3" fill="#ff00aa" stroke="#d95319" stroke-width="1.6"/>
<circle cx="1286.4" cy="774.5" r="14.3" fill="#ff00aa" stroke="#d95319" stroke-width="1.6"/>
<path d="M1635.3 74.2 1635.3 94.5 1612.0 114.8 1612.0 155.4 1591.2 175.7 1572.5 196.0 1555.5 216.2 1555.5 277.1 1526.1 297.5 1490.4 317.8 1470.9 338.1 1446.3 358.4 1426.0 378.7 1409.1 398.9 1378.5 419.2 1365.0 439.6 1362.0 459.9 1359.1 480.2 1356.3 500.4 1353.6 520.8 1351.0 541.0 1351.0 561.4 1348.5 581.6 1351.0 602.0 1348.5 622.2 1351.0 642.6 1351.0 683.1 1348.5 703.5 1351.0 723.8 1348.5 744.1 1348.5 784.6 1351.0 805.0 1348.5 825.2 1351.0 845.6 1348.5 865.9 1351.0 886.1 1348.5 906.5 1351.0 926.8 1348.5 947.1 1351.0 967.4 1348.5 987.6 1351.0 1008.0 1348.5 1028.2 1351.0 1048.6 1348.5 1068.8 1351.0 1089.2 1348.5 1109.5 1351.0 1129.8 1351.0 1292.2M1612.0 74.2 1612.0 236.6 1572.5 256.9 1540.1 277.1 1540.1 297.5 1513.2 317.8 1490.4 338.1 1470.9 358.4 1439.1 378.7 1399.2 398.9 1399.2 419.2 1365.0 439.6 1365.0 459.9 1359.1 480.2 1356.3 500.4 1353.6 520.8 1353.6 541.0 1351.0 561.4 1351.0 602.0 1353.6 622.2 1351.0 642.6 1353.6 662.9 1353.6 906.5 1351.0 926.8 1353.6 947.1 1351.0 967.4 1353.6 987.6 1351.0 1008.0 1351.0 1048.6 1353.6 1068.8 1351.0 1089.2 1351.0 1129.8 1353.6 1150.0 1351.0 1170.4 1353.6 1190.7 1351.0 1211.0 1353.6 1231.2 1351.0 1251.5 1353.6 1271.9 1353.6 1292.2M1612.0 74.2 1612.0 155.4 1591.2 175.7 1572.5 196.0 1572.5 236.6 1555.5 256.9 1540.1 277.1 1526.1 297.5 1513.2 317.8 1513.2 358.4 1490.4 378.7 1462.1 398.9 1446.3 419.2 1426.0 439.6 1399.2 459.9 1374.9 480.2 1359.1 500.4 1359.1 520.8 1353.6 541.0 1351.0 561.4 1348.5 581.6 1351.0 602.0 1348.5 622.2 1351.0 642.6 1348.5 662.9 1351.0 683.1 1351.0 764.4 1348.5 784.6 1351.0 805.0 1348.5 825.2 1351.0 845.6 1348.5 865.9 1351.0 886.1 1348.5 906.5 1351.0 926.8 1351.0 1150.0 1353.6 1170.4 1351.0 1190.7 1353.6 1211.0 1351.0 1231.2 1351.0 1292.2M1591.2 74.2 1591.2 317.8 1572.5 338.1 1526.1 358.4 1526.1 378.7 1490.4 398.9 1446.3 419.2 1420.0 439.6 1382.2 459.9 1359.1 480.2 1353.6 500.4 1353.6 520.8 1356.3 541.0 1353.6 561.4 1353.6 581.6 1351.0 602.0 1353.6 622.2 1351.0 642.6 1353.6 662.9 1351.0 683.1 1353.6 703.5 1351.0 723.8 1353.6 744.1 1351.0 764.4 1353.6 784.6 1353.6 926.8 1356.3 947.1 1353.6 967.4 1356.3 987.6 1353.6 1008.0 1356.3 1028.2 1353.6 1048.6 1353.6 1271.9 1351.0 1292.2M1591.2 74.2 1591.2 236.6 1555.5 256.9 1540.1 277.1 1526.1 297.5 1513.2 317.8 1501.3 338.1 1501.3 358.4 1480.3 378.7 1462.1 398.9 1439.1 419.2 1404.0 439.6 1404.0 459.9 1382.2 480.2 1382.2 500.4 1371.4 520.8 1359.1 541.0 1353.6 561.4 1348.5 581.6 1348.5 825.2 1351.0 845.6 1348.5 865.9 1351.0 886.1 1348.5 906.5 1348.5 947.1 1351.0 967.4 1348.5 987.6 1351.0 1008.0 1348.5 1028.2 1351.0 1048.6 1351.0 1292.2M1572.5 74.2 1572.5 155.4 1555.5 175.7 1555.5 216.2 1540.1 236.6 1540.1 256.9 1513.2 277.1 1490.4 297.5 1470.9 317.8 1453.9 338.1 1453.9 358.4 1439.1 378.7 1439.1 419.2 1414.4 439.6 1390.3 459.9 1374.9 480.2 1356.3 500.4 1353.6 520.8 1353.6 541.0 1351.0 561.4 1351.0 581.6 1348.5 602.0 1351.0 622.2 1348.5 642.6 1351.0 662.9 1348.5 683.1 1351.0 703.5 1348.5 723.8 1351.0 744.1 1348.5 764.4 1351.0 784.6 1351.0 947.1 1348.5 967.4 1351.0 987.6 1348.5 1008.0 1351.0 1028.2 1351.0 1292.2M1572.5 74.2 1572.5 277.1 1540.1 297.5 1540.1 317.8 1526.1 338.1 1501.3 358.4 1470.9 378.7 1470.9 398.9 1453.9 419.2 1439.1 439.6 1409.1 459.9 1382.2 480.2 1356.3 500.4 1356.3 561.4 1353.6 581.6 1353.6 764.4 1351.0 784.6 1353.6 805.0 1351.0 825.2 1353.6 845.6 1351.0 865.9 1353.6 886.1 1351.0 906.5 1353.6 926.8 1351.0 947.1 1353.6 967.4 1351.0 987.6 1353.6 1008.0 1351.0 1028.2 1353.6 1048.6 1351.0 1068.8 1353.6 1089.2 1351.0 1109.5 1353.6 1129.8 1351.0 1150.0 1353.6 1170.4 1351.0 1190.7 1353.6 1211.0 1351.0 1231.2 1353.6 1251.5 1351.0 1271.9 1353.6 1292.2M1555.5 74.2 1555.5 114.8 1540.1 135.1 1526.1 155.4 1513.2 175.7 1490.4 196.0 1490.4 256.9 1470.9 277.1 1446.3 297.5 1426.0 317.8 1426.0 398.9 1409.1 419.2 1394.6 439.6 1374.9 459.9 1374.9 500.4 1368.2 520.8 1359.1 541.0 1351.0 561.4 1351.0 581.6 1348.5 602.0 1351.0 622.2 1348.5 642.6 1351.0 662.9 1348.5 683.1 1351.0 703.5 1348.5 723.8 1351.0 744.1 1348.5 764.4 1351.0 784.6 1348.5 805.0 1351.0 825.2 1348.5 845.6 1348.5 886.1 1351.0 906.5 1351.0 1231.2 1348.5 1251.5 1351.0 1271.9 1351.0 1292.2M1540.1 74.2 1540.1 277.1 1513.2 297.5 1490.4 317.8 1462.1 338.1 1432.4 358.4 1414.4 378.7 1399.2 398.9 1399.2 439.6 1371.4 459.9 1356.3 480.2 1356.3 520.8 1353.6 541.0 1353.6 561.4 1351.0 581.6 1353.6 602.0 1351.0 622.2 1353.6 642.6 1351.0 662.9 1353.6 683.1 1351.0 703.5 1353.6 723.8 1351.0 744.1 1353.6 764.4 1351.0 784.6 1353.6 805.0 1351.0 825.2 1351.0 947.1 1353.6 967.4 1351.0 987.6 1353.6 1008.0 1351.0 1028.2 1353.6 1048.6 1351.0 1068.8 1353.6 1089.2 1353.6 1129.8 1351.0 1150.0 1353.6 1170.4 1351.0 1190.7 1353.6 1211.0 1351.0 1231.2 1353.6 1251.5 1351.0 1271.9 1353.6 1292.2M1540.1 74.2 1540.1 398.9 1513.2 419.2 1480.3 439.6 1462.1 459.9 1420.0 480.2 1386.2 500.4 1378.5 520.8 1365.0 541.0 1353.6 561.4 1351.0 581.6 1348.5 602.0 1351.0 622.2 1348.5 642.6 1348.5 764.4 1351.0 784.6 1348.5 805.0 1351.0 825.2 1348.5 845.6 1351.0 865.9 1348.5 886.1 1351.0 906.5 1348.5 926.8 1351.0 947.1 1348.5 967.4 1351.0 987.6 1351.0 1089.2 1353.6 1109.5 1351.0 1129.8 1353.6 1150.0 1351.0 1170.4 1353.6 1190.7 1351.0 1211.0 1351.0 1251.5 1353.6 1271.9 1351.0 1292.2M1526.1 74.2 1526.1 135.1 1513.2 155.4 1513.2 196.0 1501.3 216.2 1480.3 236.6 1480.3 256.9 1462.1 277.1 1453.9 297.5 1453.9 358.4 1446.3 378.7 1432.4 398.9 1420.0 419.2 1409.1 439.6 1399.2 459.9 1399.2 480.2 1386.2 500.4 1378.5 520.8 1365.0 541.0 1356.3 561.4 1351.0 581.6 1353.6 602.0 1353.6 764.4 1351.0 784.6 1353.6 805.0 1351.0 825.2 1353.6 845.6 1351.0 865.9 1353.6 886.1 1351.0 906.5 1353.6 926.8 1351.0 947.1 1353.6 967.4 1351.0 987.6 1353.6 1008.0 1351.0 1028.2 1353.6 1048.6 1351.0 1068.8 1351.0 1190.7 1353.6 1211.0 1351.0 1231.2 1353.6 1251.5 1351.0 1271.9 1353.6 1292.2M1526.1 74.2 1526.1 358.4 1501.3 378.7 1501.3 398.9 1462.1 419.2 1462.1 439.6 1432.4 459.9 1432.4 500.4 1409.1 520.8 1378.5 541.0 1359.1 561.4 1356.3 581.6 1353.6 602.0 1353.6 642.6 1356.3 662.9 1353.6 683.1 1353.6 744.1 1351.0 764.4 1353.6 784.6 1351.0 805.0 1353.6 825.2 1351.0 845.6 1353.6 865.9 1351.0 886.1 1353.6 906.5 1351.0 926.8 1353.6 947.1 1351.0 967.4 1353.6 987.6 1351.0 1008.0 1353.6 1028.2 1351.0 1048.6 1353.6 1068.8 1351.0 1089.2 1353.6 1109.5 1351.0 1129.8 1353.6 1150.0 1351.0 1170.4 1353.6 1190.7 1351.0 1211.0 1353.6 1231.2 1351.0 1251.5 1353.6 1271.9 1351.0 1292.2M1513.2 74.2 1513.2 196.0 1490.4 216.2 1490.4 256.9 1480.3 277.1 1462.1 297.5 1446.3 317.8 1446.3 378.7 1426.0 398.9 1414.4 419.2 1399.2 439.6 1386.2 459.9 1386.2 500.4 1374.9 520.8 1362.0 541.0 1356.3 561.4 1351.0 581.6 1353.6 602.0 1351.0 622.2 1353.6 642.6 1351.0 662.9 1353.6 683.1 1351.0 703.5 1353.6 723.8 1351.0 744.1 1351.0 825.2 1353.6 845.6 1351.0 865.9 1353.6 886.1 1351.0 906.5 1353.6 926.8 1351.0 947.1 1353.6 967.4 1351.0 987.6 1351.0 1028.2 1353.6 1048.6 1351.0 1068.8 1351.0 1190.7 1353.6 1211.0 1351.0 1231.2 1353.6 1251.5 1351.0 1271.9 1353.6 1292.2M1513.2 74.2 1513.2 398.9 1470.9 419.2 1426.0 439.6 1426.0 500.4 1404.0 520.8 1374.9 541.0 1359.1 561.4 1356.3 581.6 1356.3 703.5 1353.6 723.8 1356.3 744.1 1353.6 764.4 1356.3 784.6 1353.6 805.0 1353.6 845.6 1356.3 865.9 1353.6 886.1 1356.3 906.5 1353.6 926.8 1356.3 947.1 1353.6 967.4 1356.3 987.6 1353.6 1008.0 1353.6 1048.6 1356.3 1068.8 1353.6 1089.2 1353.6 1292.2M1501.3 74.2 1501.3 216.2 1490.4 236.6 1490.4 256.9 1480.3 277.1 1470.9 297.5 1470.9 439.6 1462.1 459.9 1446.3 480.2 1446.3 500.4 1414.4 520.8 1378.5 541.0 1356.3 561.4 1348.5 581.6 1351.0 602.0 1348.5 622.2 1351.0 642.6 1348.5 662.9 1351.0 683.1 1348.5 703.5 1351.0 723.8 1348.5 744.1 1351.0 764.4 1351.0 805.0 1348.5 825.2 1351.0 845.6 1351.0 886.1 1348.5 906.5 1351.0 926.8 1348.5 947.1 1351.0 967.4 1348.5 987.6 1351.0 1008.0 1351.0 1190.7 1353.6 1211.0 1351.0 1231.2 1351.0 1292.2M1490.4 74.2 1490.4 378.7 1462.1 398.9 1462.1 419.2 1446.3 439.6 1446.3 480.2 1426.0 500.4 1404.0 520.8 1374.9 541.0 1359.1 561.4 1356.3 581.6 1353.6 602.0 1353.6 642.6 1356.3 662.9 1353.6 683.1 1356.3 703.5 1353.6 723.8 1353.6 764.4 1356.3 784.6 1353.6 805.0 1353.6 865.9 1351.0 886.1 1353.6 906.5 1351.0 926.8 1353.6 947.1 1353.6 1292.2M1480.3 74.2 1480.3 135.1 1470.9 155.4 1470.9 175.7 1453.9 196.0 1453.9 216.2 1446.3 236.6 1439.1 256.9 1426.0 277.1 1426.0 297.5 1420.0 317.8 1420.0 338.1 1409.1 358.4 1399.2 378.7 1390.3 398.9 1382.2 419.2 1382.2 439.6 1371.4 459.9 1371.4 480.2 1359.1 500.4 1356.3 520.8 1353.6 541.0 1351.0 561.4 1348.5 581.6 1348.5 642.6 1346.1 662.9 1348.5 683.1 1348.5 703.5 1351.0 723.8 1348.5 744.1 1351.0 764.4 1348.5 784.6 1351.0 805.0 1348.5 825.2 1348.5 1068.8 1351.0 1089.2 1348.5 1109.5 1351.0 1129.8 1348.5 1150.0 1351.0 1170.4 1348.5 1190.7 1351.0 1211.0 1348.5 1231.2 1351.0 1251.5 1351.0 1292.2M1470.9 74.2 1470.9 419.2 1439.1 439.6 1414.4 459.9 1382.2 480.2 1359.1 500.4 1356.3 520.8 1356.3 541.0 1353.6 561.4 1353.6 581.6 1351.0 602.0 1353.6 622.2 1351.0 642.6 1353.6 662.9 1351.0 683.1 1353.6 703.5 1351.0 723.8 1353.6 744.1 1351.0 764.4 1351.0 805.0 1353.6 825.2 1351.0 845.6 1353.6 865.9 1351.0 886.1 1353.6 906.5 1351.0 926.8 1353.6 947.1 1351.0 967.4 1351.0 1048.6 1353.6 1068.8 1351.0 1089.2 1353.6 1109.5 1351.0 1129.8 1353.6 1150.0 1353.6 1292.2M1555.5 74.2 1555.5 317.8 1540.1 338.1 1526.1 358.4 1501.3 378.7 1480.3 398.9 1453.9 419.2 1453.9 439.6 1439.1 459.9 1409.1 480.2 1409.1 500.4 1394.6 520.8 1371.4 541.0 1359.1 561.4 1353.6 581.6 1353.6 642.6 1351.0 662.9 1353.6 683.1 1351.0 703.5 1353.6 723.8 1351.0 744.1 1353.6 764.4 1353.6 865.9 1356.3 886.1 1353.6 906.5 1356.3 926.8 1353.6 947.1 1353.6 1008.0 1351.0 1028.2 1353.6 1048.6 1351.0 1068.8 1353.6 1089.2 1353.6 1150.0 1356.3 1170.4 1353.6 1190.7 1353.6 1231.2 1356.3 1251.5 1353.6 1271.9 1353.6 1292.2M1490.4 74.2 1490.4 155.4 1470.9 175.7 1453.9 196.0 1439.1 216.2 1439.1 236.6 1432.4 256.9 1414.4 277.1 1409.1 297.5 1404.0 317.8 1399.2 338.1 1390.3 358.4 1386.2 378.7 1378.5 398.9 1371.4 419.2 1365.0 439.6 1365.0 459.9 1359.1 480.2 1356.3 500.4 1353.6 520.8 1353.6 541.0 1351.0 561.4 1351.0 662.9 1348.5 683.1 1351.0 703.5 1348.5 723.8 1348.5 764.4 1351.0 784.6 1348.5 805.0 1351.0 825.2 1348.5 845.6 1351.0 865.9 1348.5 886.1 1351.0 906.5 1348.5 926.8 1351.0 947.1 1351.0 987.6 1348.5 1008.0 1351.0 1028.2 1348.5 1048.6 1351.0 1068.8 1351.0 1292.2M1591.2 74.2 1572.5 94.5 1555.5 114.8 1540.1 135.1 1513.2 155.4 1490.4 175.7 1470.9 196.0 1470.9 216.2 1453.9 236.6 1453.9 256.9 1432.4 277.1 1420.0 297.5 1414.4 317.8 1409.1 338.1 1399.2 358.4 1390.3 378.7 1382.2 398.9 1374.9 419.2 1371.4 439.6 1365.0 459.9 1359.1 480.2 1356.3 500.4 1353.6 520.8 1351.0 541.0 1348.5 561.4 1346.1 581.6 1348.5 602.0 1346.1 622.2 1348.5 642.6 1346.1 662.9 1348.5 683.1 1348.5 703.5 1351.0 723.8 1348.5 744.1 1351.0 764.4 1348.5 784.6 1351.0 805.0 1348.5 825.2 1351.0 845.6 1348.5 865.9 1351.0 886.1 1348.5 906.5 1351.0 926.8 1348.5 947.1 1348.5 1068.8 1351.0 1089.2 1348.5 1109.5 1351.0 1129.8 1348.5 1150.0 1351.0 1170.4 1351.0 1211.0 1348.5 1231.2 1351.0 1251.5 1348.5 1271.9 1351.0 1292.2M1540.1 74.2 1540.1 216.2 1526.1 236.6 1501.3 256.9 1480.3 277.1 1462.1 297.5 1446.3 317.8 1426.0 338.1 1404.0 358.4 1394.6 378.7 1371.4 398.9 1368.2 419.2 1368.2 439.6 1359.1 459.9 1356.3 480.2 1356.3 541.0 1353.6 561.4 1353.6 581.6 1351.0 602.0 1353.6 622.2 1351.0 642.6 1353.6 662.9 1351.0 683.1 1353.6 703.5 1351.0 723.8 1353.6 744.1 1351.0 764.4 1353.6 784.6 1351.0 805.0 1353.6 825.2 1351.0 845.6 1353.6 865.9 1351.0 886.1 1353.6 906.5 1351.0 926.8 1353.6 947.1 1351.0 967.4 1353.6 987.6 1351.0 1008.0 1353.6 1028.2 1351.0 1048.6 1353.6 1068.8 1351.0 1089.2 1353.6 1109.5 1351.0 1129.8 1353.6 1150.0 1351.0 1170.4 1353.6 1190.7 1351.0 1211.0 1353.6 1231.2 1351.0 1251.5 1353.6 1271.9 1351.0 1292.2M1612.0 74.2 1612.0 297.5 1572.5 317.8 1555.5 338.1 1555.5 358.4 1540.1 378.7 1540.1 398.9 1501.3 419.2 1501.3 480.2 1470.9 500.4 1432.4 520.8 1382.2 541.0 1362.0 561.4 1353.6 581.6 1353.6 602.0 1351.0 622.2 1353.6 642.6 1351.0 662.9 1353.6 683.1 1351.0 703.5 1353.6 723.8 1353.6 784.6 1356.3 805.0 1353.6 825.2 1356.3 845.6 1353.6 865.9 1356.3 886.1 1353.6 906.5 1353.6 967.4 1351.0 987.6 1353.6 1008.0 1351.0 1028.2 1353.6 1048.6 1351.0 1068.8 1353.6 1089.2 1353.6 1129.8 1351.0 1150.0 1353.6 1170.4 1351.0 1190.7 1353.6 1211.0 1351.0 1231.2 1353.6 1251.5 1353.6 1292.2M1490.4 74.2 1490.4 277.1 1470.9 297.5 1470.9 338.1 1453.9 358.4 1432.4 378.7 1432.4 398.9 1420.0 419.2 1420.0 480.2 1409.1 500.4 1390.3 520.8 1368.2 541.0 1353.6 561.4 1351.0 581.6 1351.0 642.6 1353.6 662.9 1351.0 683.1 1353.6 703.5 1351.0 723.8 1353.6 744.1 1351.0 764.4 1353.6 784.6 1351.0 805.0 1353.6 825.2 1351.0 845.6 1351.0 865.9 1348.5 886.1 1351.0 906.5 1348.5 926.8 1351.0 947.1 1348.5 967.4 1351.0 987.6 1348.5 1008.0 1351.0 1028.2 1351.0 1150.0 1348.5 1170.4 1351.0 1190.7 1348.5 1211.0 1351.0 1231.2 1351.0 1292.2M1501.3 74.2 1501.3 114.8 1490.4 135.1 1480.3 155.4 1462.1 175.7 1462.1 236.6 1453.9 256.9 1439.1 277.1 1426.0 297.5 1409.1 317.8 1399.2 338.1 1399.2 358.4 1382.2 378.7 1374.9 398.9 1374.9 419.2 1365.0 439.6 1362.0 459.9 1359.1 480.2 1359.1 500.4 1356.3 520.8 1353.6 541.0 1353.6 561.4 1351.0 581.6 1353.6 602.0 1351.0 622.2 1351.0 662.9 1353.6 683.1 1351.0 703.5 1353.6 723.8 1351.0 744.1 1353.6 764.4 1351.0 784.6 1353.6 805.0 1351.0 825.2 1353.6 845.6 1351.0 865.9 1353.6 886.1 1353.6 967.4 1351.0 987.6 1353.6 1008.0 1351.0 1028.2 1353.6 1048.6 1351.0 1068.8 1353.6 1089.2 1351.0 1109.5 1353.6 1129.8 1351.0 1150.0 1353.6 1170.4 1353.6 1292.2M1513.2 74.2 1513.2 155.4 1501.3 175.7 1501.3 196.0 1470.9 216.2 1470.9 236.6 1453.9 256.9 1420.0 277.1 1420.0 297.5 1404.0 317.8 1399.2 338.1 1394.6 358.4 1394.6 398.9 1374.9 419.2 1374.9 439.6 1362.0 459.9 1359.1 480.2 1359.1 500.4 1356.3 520.8 1353.6 541.0 1351.0 561.4 1353.6 581.6 1351.0 602.0 1353.6 622.2 1351.0 642.6 1351.0 662.9 1348.5 683.1 1351.0 703.5 1348.5 723.8 1351.0 744.1 1348.5 764.4 1351.0 784.6 1348.5 805.0 1351.0 825.2 1348.5 845.6 1351.0 865.9 1348.5 886.1 1351.0 906.5 1351.0 1150.0 1348.5 1170.4 1351.0 1190.7 1351.0 1292.2M1540.1 74.2 1540.1 419.2 1513.2 439.6 1490.4 459.9 1490.4 480.2 1470.9 500.4 1426.0 520.8 1382.2 541.0 1362.0 561.4 1353.6 581.6 1356.3 602.0 1353.6 622.2 1356.3 642.6 1353.6 662.9 1356.3 683.1 1353.6 703.5 1356.3 723.8 1353.6 744.1 1356.3 764.4 1353.6 784.6 1356.3 805.0 1353.6 825.2 1356.3 845.6 1353.6 865.9 1353.6 906.5 1356.3 926.8 1353.6 947.1 1353.6 1028.2 1356.3 1048.6 1353.6 1068.8 1356.3 1089.2 1353.6 1109.5 1353.6 1292.2M1490.4 74.2 1490.4 338.1 1462.1 358.4 1432.4 378.7 1414.4 398.9 1386.2 419.2 1386.2 500.4 1374.9 520.8 1362.0 541.0 1351.0 561.4 1348.5 581.6 1348.5 642.6 1351.0 662.9 1348.5 683.1 1351.0 703.5 1348.5 723.8 1351.0 744.1 1348.5 764.4 1351.0 784.6 1348.5 805.0 1351.0 825.2 1348.5 845.6 1351.0 865.9 1348.5 886.1 1351.0 906.5 1348.5 926.8 1351.0 947.1 1348.5 967.4 1351.0 987.6 1348.5 1008.0 1351.0 1028.2 1348.5 1048.6 1348.5 1129.8 1351.0 1150.0 1348.5 1170.4 1351.0 1190.7 1348.5 1211.0 1351.0 1231.2 1348.5 1251.5 1351.0 1271.9 1348.5 1292.2M1540.1 74.2 1540.1 398.9 1501.3 419.2 1462.1 439.6 1432.4 459.9 1394.6 480.2 1394.6 500.4 1382.2 520.8 1368.2 541.0 1359.1 561.4 1353.6 581.6 1353.6 683.1 1351.0 703.5 1353.6 723.8 1351.0 744.1 1353.6 764.4 1351.0 784.6 1353.6 805.0 1351.0 825.2 1353.6 845.6 1353.6 886.1 1351.0 906.5 1353.6 926.8 1351.0 947.1 1353.6 967.4 1353.6 1129.8 1351.0 1150.0 1353.6 1170.4 1351.0 1190.7 1353.6 1211.0 1353.6 1271.9 1356.3 1292.2M1513.2 74.2 1513.2 378.7 1501.3 398.9 1501.3 419.2 1490.4 439.6 1480.3 459.9 1462.1 480.2 1462.1 500.4 1420.0 520.8 1378.5 541.0 1356.3 561.4 1351.0 581.6 1351.0 602.0 1353.6 622.2 1351.0 642.6 1351.0 723.8 1353.6 744.1 1351.0 764.4 1353.6 784.6 1351.0 805.0 1353.6 825.2 1351.0 845.6 1353.6 865.9 1351.0 886.1 1353.6 906.5 1351.0 926.8 1353.6 947.1 1351.0 967.4 1353.6 987.6 1351.0 1008.0 1353.6 1028.2 1351.0 1048.6 1353.6 1068.8 1351.0 1089.2 1351.0 1129.8 1353.6 1150.0 1351.0 1170.4 1353.6 1190.7 1351.0 1211.0 1353.6 1231.2 1351.0 1251.5 1353.6 1271.9 1351.0 1292.2M1501.3 74.2 1501.3 338.1 1480.3 358.4 1462.1 378.7 1462.1 398.9 1446.3 419.2 1426.0 439.6 1414.4 459.9 1414.4 480.2 1399.2 500.4 1386.2 520.8 1368.2 541.0 1359.1 561.4 1353.6 581.6 1353.6 642.6 1351.0 662.9 1353.6 683.1 1353.6 703.5 1356.3 723.8 1353.6 744.1 1353.6 784.6 1356.3 805.0 1353.6 825.2 1356.3 845.6 1353.6 865.9 1356.3 886.1 1353.6 906.5 1353.6 967.4 1351.0 987.6 1353.6 1008.0 1351.0 1028.2 1353.6 1048.6 1353.6 1211.0 1351.0 1231.2 1353.6 1251.5 1351.0 1271.9 1353.6 1292.2" fill="none" stroke="#00ff00" stroke-width="1.4"/>
<path d="M1863.5 74.2 1863.5 94.5 1809.6 114.8 1809.6 175.7 1764.0 196.0 1724.9 216.2 1691.0 236.6 1661.4 256.9 1635.3 277.1 1612.0 297.5 1591.2 317.8 1555.5 338.1 1526.1 358.4 1501.3 378.7 1470.9 398.9 1446.3 419.2 1420.0 439.6 1404.0 459.9 1390.3 480.2 1382.2 500.4 1378.5 520.8 1374.9 541.0 1368.2 561.4 1368.2 581.6 1365.0 602.0 1365.0 622.2 1362.0 642.6 1362.0 703.5 1359.1 723.8 1359.1 1048.6 1362.0 1068.8 1359.1 1089.2 1362.0 1109.5 1362.0 1129.8 1365.0 1150.0 1362.0 1170.4 1365.0 1190.7 1362.0 1211.0 1365.0 1231.2 1362.0 1251.5 1365.0 1271.9 1365.0 1292.2M1809.6 74.2 1809.6 175.7 1764.0 196.0 1764.0 236.6 1724.9 256.9 1724.9 317.8 1691.0 338.1 1691.0 378.7 1661.4 398.9 1661.4 439.6 1439.1 459.9 1404.0 480.2 1378.5 500.4 1374.9 520.8 1371.4 541.0 1368.2 561.4 1365.0 581.6 1365.0 602.0 1362.0 622.2 1362.0 662.9 1359.1 683.1 1359.1 825.2 1356.3 845.6 1356.3 1028.2 1359.1 1048.6 1356.3 1068.8 1359.1 1089.2 1359.1 1109.5 1362.0 1129.8 1359.1 1150.0 1362.0 1170.4 1359.1 1190.7 1362.0 1211.0 1359.1 1231.2 1362.0 1251.5 1362.0 1271.9 1365.0 1292.2M1764.0 74.2 1764.0 236.6 1724.9 256.9 1691.0 277.1 1661.4 297.5 1635.3 317.8 1612.0 338.1 1591.2 358.4 1555.5 378.7 1540.1 398.9 1513.2 419.2 1490.4 439.6 1462.1 459.9 1426.0 480.2 1386.2 500.4 1378.5 520.8 1374.9 541.0 1371.4 561.4 1368.2 581.6 1365.0 602.0 1365.0 642.6 1362.0 662.9 1362.0 723.8 1359.1 744.1 1359.1 947.1 1356.3 967.4 1356.3 1048.6 1359.1 1068.8 1356.3 1089.2 1359.1 1109.5 1356.3 1129.8 1359.1 1150.0 1356.3 1170.4 1359.1 1190.7 1356.3 1211.0 1359.1 1231.2 1359.1 1251.5 1362.0 1271.9 1359.1 1292.2M1764.0 74.2 1764.0 155.4 1724.9 175.7 1724.9 317.8 1691.0 338.1 1661.4 358.4 1635.3 378.7 1612.0 398.9 1572.5 419.2 1540.1 439.6 1501.3 459.9 1462.1 480.2 1420.0 500.4 1374.9 520.8 1371.4 541.0 1368.2 561.4 1368.2 581.6 1365.0 602.0 1365.0 622.2 1362.0 642.6 1362.0 662.9 1359.1 683.1 1359.1 865.9 1356.3 886.1 1356.3 1008.0 1353.6 1028.2 1356.3 1048.6 1353.6 1068.8 1356.3 1089.2 1353.6 1109.5 1356.3 1129.8 1353.6 1150.0 1356.3 1170.4 1353.6 1190.7 1356.3 1211.0 1353.6 1231.2 1359.1 1251.5 1356.3 1271.9 1359.1 1292.2M1764.0 74.2 1764.0 216.2 1724.9 236.6 1691.0 256.9 1661.4 277.1 1635.3 297.5 1612.0 317.8 1591.2 338.1 1572.5 358.4 1540.1 378.7 1513.2 398.9 1490.4 419.2 1470.9 439.6 1446.3 459.9 1420.0 480.2 1394.6 500.4 1378.5 520.8 1374.9 541.0 1368.2 561.4 1368.2 581.6 1365.0 602.0 1365.0 622.2 1362.0 642.6 1362.0 703.5 1359.1 723.8 1359.1 1068.8 1362.0 1089.2 1359.1 1109.5 1362.0 1129.8 1362.0 1150.0 1365.0 1170.4 1362.0 1190.7 1365.0 1211.0 1362.0 1231.2 1365.0 1251.5 1362.0 1271.9 1368.2 1292.2M1724.9 74.2 1724.9 94.5 1691.0 114.8 1661.4 135.1 1661.4 317.8 1513.2 338.1 1480.3 358.4 1453.9 378.7 1426.0 398.9 1414.4 419.2 1404.0 439.6 1390.3 459.9 1382.2 480.2 1378.5 500.4 1374.9 520.8 1371.4 541.0 1368.2 561.4 1365.0 581.6 1365.0 602.0 1362.0 622.2 1362.0 662.9 1359.1 683.1 1359.1 825.2 1356.3 845.6 1356.3 1008.0 1359.1 1028.2 1356.3 1048.6 1359.1 1068.8 1356.3 1089.2 1359.1 1109.5 1359.1 1129.8 1362.0 1150.0 1359.1 1170.4 1362.0 1190.7 1359.1 1211.0 1362.0 1231.2 1359.1 1251.5 1365.0 1271.9 1362.0 1292.2M1691.0 74.2 1691.0 317.8 1526.1 338.1 1501.3 358.4 1470.9 378.7 1439.1 398.9 1414.4 419.2 1404.0 439.6 1390.3 459.9 1382.2 480.2 1378.5 500.4 1374.9 520.8 1371.4 541.0 1368.2 561.4 1365.0 581.6 1365.0 602.0 1362.0 622.2 1362.0 662.9 1359.1 683.1 1359.1 825.2 1356.3 845.6 1356.3 1068.8 1359.1 1089.2 1356.3 1109.5 1359.1 1129.8 1356.3 1150.0 1359.1 1170.4 1356.3 1190.7 1359.1 1211.0 1356.3 1231.2 1362.0 1251.5 1359.1 1271.9 1362.0 1292.2M1691.0 74.2 1691.0 216.2 1612.0 236.6 1612.0 317.8 1501.3 338.1 1480.3 358.4 1462.1 378.7 1446.3 398.9 1426.0 419.2 1409.1 439.6 1394.6 459.9 1386.2 480.2 1382.2 500.4 1374.9 520.8 1371.4 541.0 1368.2 561.4 1368.2 581.6 1365.0 602.0 1365.0 622.2 1362.0 642.6 1362.0 662.9 1359.1 683.1 1359.1 865.9 1356.3 886.1 1356.3 1028.2 1353.6 1048.6 1356.3 1068.8 1353.6 1089.2 1356.3 1109.5 1353.6 1129.8 1356.3 1150.0 1353.6 1170.4 1356.3 1190.7 1353.6 1211.0 1356.3 1231.2 1356.3 1251.5 1359.1 1271.9 1356.3 1292.2M1661.4 74.2 1661.4 317.8 1526.1 338.1 1513.2 358.4 1490.4 378.7 1470.9 398.9 1439.1 419.2 1420.0 439.6 1404.0 459.9 1394.6 480.2 1386.2 500.4 1378.5 520.8 1374.9 541.0 1371.4 561.4 1368.2 581.6 1365.0 602.0 1365.0 642.6 1362.0 662.9 1362.0 744.1 1359.1 764.4 1359.1 1048.6 1362.0 1068.8 1359.1 1089.2 1362.0 1109.5 1362.0 1129.8 1365.0 1150.0 1362.0 1170.4 1365.0 1190.7 1362.0 1211.0 1365.0 1231.2 1362.0 1251.5 1365.0 1271.9 1365.0 1292.2M1635.3 74.2 1635.3 317.8 1513.2 338.1 1480.3 358.4 1453.9 378.7 1439.1 398.9 1426.0 419.2 1409.1 439.6 1394.6 459.9 1386.2 480.2 1378.5 500.4 1374.9 520.8 1371.4 541.0 1368.2 561.4 1368.2 581.6 1365.0 602.0 1365.0 622.2 1362.0 642.6 1362.0 662.9 1359.1 683.1 1359.1 865.9 1356.3 886.1 1356.3 1028.2 1359.1 1048.6 1356.3 1068.8 1359.1 1089.2 1359.1 1109.5 1362.0 1129.8 1359.1 1150.0 1362.0 1170.4 1359.1 1190.7 1362.0 1211.0 1359.1 1231.2 1362.0 1251.5 1362.0 1271.9 1365.0 1292.2M1635.3 74.2 1635.3 216.2 1612.0 236.6 1612.0 317.8 1501.3 338.1 1490.4 358.4 1462.1 378.7 1446.3 398.9 1426.0 419.2 1409.1 439.6 1399.2 459.9 1386.2 480.2 1382.2 500.4 1374.9 520.8 1371.4 541.0 1368.2 561.4 1368.2 581.6 1365.0 602.0 1365.0 622.2 1362.0 642.6 1362.0 662.9 1359.1 683.1 1359.1 886.1 1356.3 906.5 1356.3 1048.6 1359.1 1068.8 1356.3 1089.2 1359.1 1109.5 1356.3 1129.8 1359.1 1150.0 1356.3 1170.4 1359.1 1190.7 1356.3 1211.0 1359.1 1231.2 1359.1 1251.5 1362.0 1271.9 1359.1 1292.2M1724.9 74.2 1724.9 277.1 1691.0 297.5 1661.4 317.8 1540.1 338.1 1540.1 358.4 1513.2 378.7 1490.4 398.9 1453.9 419.2 1432.4 439.6 1414.4 459.9 1399.2 480.2 1390.3 500.4 1382.2 520.8 1374.9 541.0 1371.4 561.4 1368.2 581.6 1368.2 602.0 1365.0 622.2 1365.0 642.6 1362.0 662.9 1362.0 784.6 1359.1 805.0 1359.1 967.4 1356.3 987.6 1356.3 1089.2 1353.6 1109.5 1356.3 1129.8 1353.6 1150.0 1356.3 1170.4 1353.6 1190.7 1356.3 1211.0 1353.6 1231.2 1359.1 1251.5 1356.3 1271.9 1359.1 1292.2M1724.9 74.2 1724.9 317.8 1691.0 338.1 1661.4 358.4 1635.3 378.7 1612.0 398.9 1591.2 419.2 1555.5 439.6 1513.2 459.9 1470.9 480.2 1426.0 500.4 1378.5 520.8 1374.9 541.0 1368.2 561.4 1368.2 581.6 1365.0 602.0 1365.0 622.2 1362.0 642.6 1362.0 703.5 1359.1 723.8 1359.1 1068.8 1362.0 1089.2 1359.1 1109.5 1362.0 1129.8 1362.0 1150.0 1365.0 1170.4 1362.0 1190.7 1365.0 1211.0 1362.0 1231.2 1365.0 1251.5 1362.0 1271.9 1368.2 1292.2M1724.9 74.2 1724.9 135.1 1691.0 155.4 1691.0 378.7 1501.3 398.9 1470.9 419.2 1446.3 439.6 1420.0 459.9 1394.6 480.2 1382.2 500.4 1378.5 520.8 1371.4 541.0 1368.2 561.4 1368.2 581.6 1365.0 602.0 1365.0 622.2 1362.0 642.6 1362.0 683.1 1359.1 703.5 1359.1 906.5 1356.3 926.8 1359.1 947.1 1356.3 967.4 1359.1 987.6 1356.3 1008.0 1359.1 1028.2 1356.3 1048.6 1359.1 1068.8 1359.1 1129.8 1362.0 1150.0 1359.1 1170.4 1362.0 1190.7 1359.1 1211.0 1362.0 1231.2 1359.1 1251.5 1365.0 1271.9 1362.0 1292.2M1724.9 74.2 1724.9 196.0 1691.0 216.2 1661.4 236.6 1635.3 256.9 1612.0 277.1 1591.2 297.5 1572.5 317.8 1555.5 338.1 1526.1 358.4 1501.3 378.7 1480.3 398.9 1453.9 419.2 1432.4 439.6 1404.0 459.9 1390.3 480.2 1382.2 500.4 1378.5 520.8 1374.9 541.0 1368.2 561.4 1368.2 581.6 1365.0 602.0 1365.0 622.2 1362.0 642.6 1362.0 703.5 1359.1 723.8 1359.1 926.8 1356.3 947.1 1356.3 1028.2 1359.1 1048.6 1356.3 1068.8 1359.1 1089.2 1356.3 1109.5 1359.1 1129.8 1356.3 1150.0 1359.1 1170.4 1356.3 1190.7 1359.1 1211.0 1356.3 1231.2 1362.0 1251.5 1359.1 1271.9 1362.0 1292.2M1691.0 74.2 1691.0 338.1 1661.4 358.4 1635.3 378.7 1591.2 398.9 1555.5 419.2 1526.1 439.6 1490.4 459.9 1453.9 480.2 1414.4 500.4 1374.9 520.8 1371.4 541.0 1368.2 561.4 1365.0 581.6 1365.0 602.0 1362.0 622.2 1362.0 662.9 1359.1 683.1 1359.1 825.2 1356.3 845.6 1356.3 987.6 1353.6 1008.0 1356.3 1028.2 1353.6 1048.6 1356.3 1068.8 1353.6 1089.2 1356.3 1109.5 1353.6 1129.8 1356.3 1150.0 1353.6 1170.4 1356.3 1190.7 1353.6 1211.0 1356.3 1231.2 1356.3 1251.5 1359.1 1271.9 1356.3 1292.2M1691.0 74.2 1691.0 94.5 1661.4 114.8 1661.4 358.4 1635.3 378.7 1591.2 398.9 1555.5 419.2 1526.1 439.6 1490.4 459.9 1453.9 480.2 1420.0 500.4 1382.2 520.8 1374.9 541.0 1371.4 561.4 1368.2 581.6 1368.2 602.0 1365.0 622.2 1365.0 662.9 1362.0 683.1 1362.0 784.6 1359.1 805.0 1359.1 1048.6 1362.0 1068.8 1359.1 1089.2 1362.0 1109.5 1362.0 1129.8 1365.0 1150.0 1362.0 1170.4 1365.0 1190.7 1362.0 1211.0 1365.0 1231.2 1362.0 1251.5 1365.0 1271.9 1365.0 1292.2M1691.0 74.2 1691.0 175.7 1661.4 196.0 1635.3 216.2 1612.0 236.6 1612.0 338.1 1591.2 358.4 1555.5 378.7 1526.1 398.9 1501.3 419.2 1480.3 439.6 1446.3 459.9 1414.4 480.2 1378.5 500.4 1374.9 520.8 1371.4 541.0 1368.2 561.4 1368.2 581.6 1365.0 602.0 1365.0 622.2 1362.0 642.6 1362.0 662.9 1359.1 683.1 1359.1 845.6 1356.3 865.9 1356.3 1028.2 1359.1 1048.6 1356.3 1068.8 1359.1 1089.2 1359.1 1109.5 1362.0 1129.8 1359.1 1150.0 1362.0 1170.4 1359.1 1190.7 1362.0 1211.0 1359.1 1231.2 1362.0 1251.5 1362.0 1271.9 1365.0 1292.2M1691.0 74.2 1691.0 256.9 1661.4 277.1 1635.3 297.5 1612.0 317.8 1591.2 338.1 1572.5 358.4 1555.5 378.7 1513.2 398.9 1480.3 419.2 1446.3 439.6 1409.1 459.9 1390.3 480.2 1382.2 500.4 1378.5 520.8 1371.4 541.0 1368.2 561.4 1368.2 581.6 1365.0 602.0 1365.0 622.2 1362.0 642.6 1362.0 683.1 1359.1 703.5 1359.1 906.5 1356.3 926.8 1356.3 1048.6 1359.1 1068.8 1356.3 1089.2 1359.1 1109.5 1356.3 1129.8 1359.1 1150.0 1356.3 1170.4 1359.1 1190.7 1356.3 1211.0 1359.1 1231.2 1359.1 1251.5 1362.0 1271.9 1359.1 1292.2M1661.4 74.2 1661.4 378.7 1635.3 398.9 1612.0 419.2 1572.5 439.6 1540.1 459.9 1501.3 480.2 1462.1 500.4 1420.0 520.8 1374.9 541.0 1371.4 561.4 1368.2 581.6 1368.2 602.0 1365.0 622.2 1365.0 642.6 1362.0 662.9 1362.0 784.6 1359.1 805.0 1359.1 967.4 1356.3 987.6 1356.3 1089.2 1353.6 1109.5 1356.3 1129.8 1353.6 1150.0 1356.3 1170.4 1353.6 1190.7 1356.3 1211.0 1353.6 1231.2 1359.1 1251.5 1356.3 1271.9 1359.1 1292.2M1661.4 74.2 1661.4 256.9 1635.3 277.1 1635.3 398.9 1591.2 419.2 1540.1 439.6 1490.4 459.9 1439.1 480.2 1378.5 500.4 1374.9 520.8 1371.4 541.0 1368.2 561.4 1365.0 581.6 1365.0 602.0 1362.0 622.2 1362.0 662.9 1359.1 683.1 1359.1 825.2 1356.3 845.6 1356.3 987.6 1359.1 1008.0 1359.1 1068.8 1362.0 1089.2 1359.1 1109.5 1362.0 1129.8 1362.0 1150.0 1365.0 1170.4 1362.0 1190.7 1365.0 1211.0 1362.0 1231.2 1365.0 1251.5 1362.0 1271.9 1368.2 1292.2M1635.3 74.2 1635.3 358.4 1612.0 378.7 1612.0 398.9 1591.2 419.2 1555.5 439.6 1513.2 459.9 1470.9 480.2 1432.4 500.4 1382.2 520.8 1374.9 541.0 1371.4 561.4 1368.2 581.6 1368.2 602.0 1365.0 622.2 1365.0 642.6 1362.0 662.9 1362.0 764.4 1359.1 784.6 1359.1 987.6 1356.3 1008.0 1359.1 1028.2 1359.1 1089.2 1362.0 1109.5 1359.1 1129.8 1362.0 1150.0 1359.1 1170.4 1362.0 1190.7 1359.1 1211.0 1362.0 1231.2 1359.1 1251.5 1365.0 1271.9 1362.0 1292.2M1635.3 74.2 1635.3 216.2 1612.0 236.6 1612.0 358.4 1591.2 378.7 1555.5 398.9 1526.1 419.2 1501.3 439.6 1470.9 459.9 1446.3 480.2 1414.4 500.4 1390.3 520.8 1374.9 541.0 1371.4 561.4 1368.2 581.6 1365.0 602.0 1365.0 642.6 1362.0 662.9 1362.0 723.8 1359.1 744.1 1359.1 967.4 1356.3 987.6 1356.3 1028.2 1359.1 1048.6 1356.3 1068.8 1359.1 1089.2 1356.3 1109.5 1359.1 1129.8 1356.3 1150.0 1359.1 1170.4 1356.3 1190.7 1359.1 1211.0 1356.3 1231.2 1362.0 1251.5 1359.1 1271.9 1362.0 1292.2M1661.4 74.2 1661.4 175.7 1635.3 196.0 1612.0 216.2 1591.2 236.6 1572.5 256.9 1555.5 277.1 1540.1 297.5 1526.1 317.8 1513.2 338.1 1501.3 358.4 1470.9 378.7 1453.9 398.9 1432.4 419.2 1414.4 439.6 1404.0 459.9 1390.3 480.2 1382.2 500.4 1378.5 520.8 1374.9 541.0 1368.2 561.4 1368.2 581.6 1365.0 602.0 1365.0 622.2 1362.0 642.6 1362.0 703.5 1359.1 723.8 1359.1 926.8 1356.3 947.1 1356.3 1068.8 1353.6 1089.2 1356.3 1109.5 1353.6 1129.8 1356.3 1150.0 1353.6 1170.4 1356.3 1190.7 1353.6 1211.0 1356.3 1231.2 1356.3 1251.5 1359.1 1271.9 1356.3 1292.2M1661.4 74.2 1661.4 216.2 1635.3 236.6 1612.0 256.9 1591.2 277.1 1572.5 297.5 1555.5 317.8 1540.1 338.1 1526.1 358.4 1513.2 378.7 1490.4 398.9 1453.9 419.2 1432.4 439.6 1404.0 459.9 1390.3 480.2 1382.2 500.4 1378.5 520.8 1371.4 541.0 1368.2 561.4 1368.2 581.6 1365.0 602.0 1365.0 622.2 1362.0 642.6 1362.0 683.1 1359.1 703.5 1359.1 906.5 1356.3 926.8 1359.1 947.1 1359.1 1048.6 1362.0 1068.8 1359.1 1089.2 1362.0 1109.5 1362.0 1129.8 1365.0 1150.0 1362.0 1170.4 1365.0 1190.7 1362.0 1211.0 1365.0 1231.2 1362.0 1251.5 1365.0 1271.9 1365.0 1292.2M1764.0 74.2 1764.0 135.1 1724.9 155.4 1724.9 256.9 1691.0 277.1 1661.4 297.5 1635.3 317.8 1612.0 338.1 1591.2 358.4 1555.5 378.7 1526.1 398.9 1490.4 419.2 1462.1 439.6 1432.4 459.9 1404.0 480.2 1378.5 500.4 1374.9 520.8 1371.4 541.0 1368.2 561.4 1368.2 581.6 1365.0 602.0 1365.0 622.2 1362.0 642.6 1362.0 662.9 1359.1 683.1 1359.1 865.9 1356.3 886.1 1356.3 1028.2 1359.1 1048.6 1356.3 1068.8 1359.1 1089.2 1359.1 1109.5 1362.0 1129.8 1359.1 1150.0 1362.0 1170.4 1359.1 1190.7 1362.0 1211.0 1359.1 1231.2 1362.0 1251.5 1362.0 1271.9 1365.0 1292.2M1661.4 74.2 1661.4 439.6 1439.1 459.9 1409.1 480.2 1378.5 500.4 1374.9 520.8 1371.4 541.0 1368.2 561.4 1368.2 581.6 1365.0 602.0 1365.0 622.2 1362.0 642.6 1362.0 662.9 1359.1 683.1 1359.1 845.6 1356.3 865.9 1356.3 1048.6 1359.1 1068.8 1356.3 1089.2 1359.1 1109.5 1356.3 1129.8 1359.1 1150.0 1356.3 1170.4 1359.1 1190.7 1356.3 1211.0 1359.1 1231.2 1359.1 1251.5 1362.0 1271.9 1359.1 1292.2M1661.4 74.2 1661.4 175.7 1635.3 196.0 1635.3 439.6 1612.0 459.9 1555.5 480.2 1470.9 500.4 1378.5 520.8 1374.9 541.0 1371.4 561.4 1368.2 581.6 1365.0 602.0 1365.0 642.6 1362.0 662.9 1362.0 744.1 1359.1 764.4 1359.1 926.8 1356.3 947.1 1356.3 1089.2 1353.6 1109.5 1356.3 1129.8 1353.6 1150.0 1356.3 1170.4 1353.6 1190.7 1356.3 1211.0 1353.6 1231.2 1359.1 1251.5 1356.3 1271.9 1359.1 1292.2M1661.4 74.2 1661.4 256.9 1635.3 277.1 1635.3 419.2 1591.2 439.6 1540.1 459.9 1490.4 480.2 1439.1 500.4 1386.2 520.8 1371.4 541.0 1368.2 561.4 1368.2 581.6 1365.0 602.0 1365.0 622.2 1362.0 642.6 1362.0 662.9 1359.1 683.1 1359.1 845.6 1356.3 865.9 1356.3 947.1 1359.1 967.4 1356.3 987.6 1359.1 1008.0 1359.1 1068.8 1362.0 1089.2 1359.1 1109.5 1362.0 1129.8 1362.0 1150.0 1365.0 1170.4 1362.0 1190.7 1365.0 1211.0 1362.0 1231.2 1365.0 1251.5 1362.0 1271.9 1368.2 1292.2M1661.4 74.2 1661.4 378.7 1635.3 398.9 1635.3 439.6 1572.5 459.9 1480.3 480.2 1382.2 500.4 1378.5 520.8 1371.4 541.0 1368.2 561.4 1368.2 581.6 1365.0 602.0 1365.0 622.2 1362.0 642.6 1362.0 683.1 1359.1 703.5 1359.1 906.5 1356.3 926.8 1359.1 947.1 1356.3 967.4 1359.1 987.6 1356.3 1008.0 1359.1 1028.2 1356.3 1048.6 1359.1 1068.8 1359.1 1129.8 1362.0 1150.0 1359.1 1170.4 1362.0 1190.7 1359.1 1211.0 1362.0 1231.2 1359.1 1251.5 1365.0 1271.9 1362.0 1292.2M1635.3 74.2 1635.3 439.6 1555.5 459.9 1490.4 480.2 1426.0 500.4 1374.9 520.8 1371.4 541.0 1368.2 561.4 1368.2 581.6 1365.0 602.0 1365.0 622.2 1362.0 642.6 1362.0 662.9 1359.1 683.1 1359.1 845.6 1356.3 865.9 1356.3 1068.8 1359.1 1089.2 1356.3 1109.5 1359.1 1129.8 1356.3 1150.0 1359.1 1170.4 1356.3 1190.7 1359.1 1211.0 1356.3 1231.2 1362.0 1251.5 1359.1 1271.9 1362.0 1292.2M1635.3 74.2 1635.3 398.9 1612.0 419.2 1612.0 439.6 1591.2 459.9 1555.5 480.2 1470.9 500.4 1390.3 520.8 1374.9 541.0 1368.2 561.4 1368.2 581.6 1365.0 602.0 1365.0 622.2 1362.0 642.6 1362.0 703.5 1359.1 723.8 1359.1 926.8 1356.3 947.1 1356.3 1068.8 1353.6 1089.2 1356.3 1109.5 1353.6 1129.8 1356.3 1150.0 1353.6 1170.4 1356.3 1190.7 1353.6 1211.0 1356.3 1231.2 1356.3 1251.5 1359.1 1271.9 1356.3 1292.2M1635.3 74.2 1635.3 358.4 1612.0 378.7 1612.0 459.9 1501.3 480.2 1378.5 500.4 1374.9 520.8 1371.4 541.0 1368.2 561.4 1368.2 581.6 1365.0 602.0 1365.0 622.2 1362.0 642.6 1362.0 662.9 1359.1 683.1 1359.1 845.6 1356.3 865.9 1356.3 967.4 1359.1 987.6 1356.3 1008.0 1359.1 1028.2 1359.1 1048.6 1362.0 1068.8 1359.1 1089.2 1362.0 1109.5 1362.0 1129.8 1365.0 1150.0 1362.0 1170.4 1365.0 1190.7 1362.0 1211.0 1365.0 1231.2 1362.0 1251.5 1365.0 1271.9 1365.0 1292.2M1724.9 74.2 1724.9 317.8 1691.0 338.1 1661.4 358.4 1635.3 378.7 1612.0 398.9 1612.0 439.6 1453.9 459.9 1409.1 480.2 1378.5 500.4 1374.9 520.8 1371.4 541.0 1368.2 561.4 1368.2 581.6 1365.0 602.0 1365.0 622.2 1362.0 642.6 1362.0 662.9 1359.1 683.1 1359.1 845.6 1356.3 865.9 1356.3 1028.2 1359.1 1048.6 1356.3 1068.8 1359.1 1089.2 1359.1 1109.5 1362.0 1129.8 1359.1 1150.0 1362.0 1170.4 1359.1 1190.7 1362.0 1211.0 1359.1 1231.2 1362.0 1251.5 1362.0 1271.9 1365.0 1292.2" fill="none" stroke="#000000" stroke-width="1.4"/>
<path d="M1555.5 74.2 1526.1 94.5 1513.2 114.8 1490.4 135.1 1470.9 155.4 1446.3 175.7 1446.3 216.2 1426.0 236.6 1414.4 256.9 1394.6 277.1 1394.6 317.8 1374.9 338.1 1368.2 358.4 1368.2 439.6 1365.0 459.9 1356.3 480.2 1351.0 500.4 1348.5 520.8 1346.1 541.0 1346.1 723.8 1343.8 744.1 1346.1 764.4 1343.8 784.6 1346.1 805.0 1343.8 825.2 1346.1 845.6 1343.8 865.9 1346.1 886.1 1346.1 1292.2M1526.1 74.2 1526.1 114.8 1501.3 135.1 1501.3 155.4 1480.3 175.7 1462.1 196.0 1439.1 216.2 1420.0 236.6 1420.0 256.9 1404.0 277.1 1390.3 297.5 1386.2 317.8 1378.5 338.1 1378.5 398.9 1365.0 419.2 1356.3 439.6 1353.6 459.9 1348.5 480.2 1346.1 500.4 1343.8 520.8 1346.1 541.0 1343.8 561.4 1346.1 581.6 1346.1 744.1 1343.8 764.4 1346.1 784.6 1346.1 805.0 1348.5 825.2 1346.1 845.6 1348.5 865.9 1346.1 886.1 1348.5 906.5 1346.1 926.8 1346.1 967.4 1348.5 987.6 1346.1 1008.0 1346.1 1170.4 1348.5 1190.7 1346.1 1211.0 1348.5 1231.2 1346.1 1251.5 1348.5 1271.9 1346.1 1292.2M1526.1 74.2 1526.1 317.8 1513.2 338.1 1480.3 358.4 1462.1 378.7 1432.4 398.9 1432.4 419.2 1409.1 439.6 1390.3 459.9 1371.4 480.2 1356.3 500.4 1353.6 520.8 1351.0 541.0 1351.0 561.4 1348.5 581.6 1351.0 602.0 1348.5 622.2 1351.0 642.6 1348.5 662.9 1351.0 683.1 1348.5 703.5 1351.0 723.8 1348.5 744.1 1351.0 764.4 1348.5 784.6 1348.5 845.6 1346.1 865.9 1348.5 886.1 1348.5 926.8 1346.1 947.1 1348.5 967.4 1348.5 1008.0 1346.1 1028.2 1348.5 1048.6 1348.5 1089.2 1346.1 1109.5 1348.5 1129.8 1348.5 1190.7 1351.0 1211.0 1348.5 1231.2 1348.5 1292.2M1513.2 74.2 1513.2 216.2 1501.3 236.6 1501.3 256.9 1490.4 277.1 1470.9 297.5 1470.9 338.1 1446.3 358.4 1420.0 378.7 1390.3 398.9 1374.9 419.2 1353.6 439.6 1353.6 459.9 1351.0 480.2 1348.5 500.4 1346.1 520.8 1346.1 541.0 1343.8 561.4 1346.1 581.6 1343.8 602.0 1343.8 622.2 1341.6 642.6 1343.8 662.9 1343.8 805.0 1346.1 825.2 1343.8 845.6 1346.1 865.9 1343.8 886.1 1346.1 906.5 1346.1 1008.0 1348.5 1028.2 1346.1 1048.6 1346.1 1089.2 1348.5 1109.5 1346.1 1129.8 1348.5 1150.0 1346.1 1170.4 1348.5 1190.7 1346.1 1211.0 1348.5 1231.2 1346.1 1251.5 1348.5 1271.9 1346.1 1292.2M1501.3 74.2 1501.3 135.1 1480.3 155.4 1462.1 175.7 1462.1 216.2 1446.3 236.6 1426.0 256.9 1414.4 277.1 1414.4 317.8 1399.2 338.1 1386.2 358.4 1371.4 378.7 1371.4 398.9 1356.3 419.2 1356.3 459.9 1353.6 480.2 1351.0 500.4 1348.5 520.8 1346.1 541.0 1348.5 561.4 1346.1 581.6 1348.5 602.0 1348.5 622.2 1351.0 642.6 1348.5 662.9 1351.0 683.1 1351.0 723.8 1348.5 744.1 1351.0 764.4 1351.0 1008.0 1348.5 1028.2 1351.0 1048.6 1348.5 1068.8 1348.5 1109.5 1351.0 1129.8 1348.5 1150.0 1348.5 1251.5 1346.1 1271.9 1348.5 1292.2M1501.3 74.2 1501.3 277.1 1480.3 297.5 1462.1 317.8 1439.1 338.1 1439.1 358.4 1414.4 378.7 1394.6 398.9 1368.2 419.2 1353.6 439.6 1353.6 459.9 1351.0 480.2 1348.5 500.4 1348.5 581.6 1346.1 602.0 1348.5 622.2 1348.5 865.9 1346.1 886.1 1348.5 906.5 1346.1 926.8 1348.5 947.1 1346.1 967.4 1348.5 987.6 1346.1 1008.0 1346.1 1048.6 1348.5 1068.8 1346.1 1089.2 1348.5 1109.5 1346.1 1129.8 1348.5 1150.0 1346.1 1170.4 1348.5 1190.7 1346.1 1211.0 1348.5 1231.2 1346.1 1251.5 1348.5 1271.9 1346.1 1292.2M1490.4 74.2 1490.4 175.7 1470.9 196.0 1453.9 216.2 1453.9 256.9 1432.4 277.1 1420.0 297.5 1409.1 317.8 1390.3 338.1 1378.5 358.4 1371.4 378.7 1365.0 398.9 1365.0 419.2 1356.3 439.6 1353.6 459.9 1348.5 480.2 1343.8 500.4 1343.8 520.8 1341.6 541.0 1341.6 561.4 1339.4 581.6 1341.6 602.0 1339.4 622.2 1341.6 642.6 1341.6 784.6 1343.8 805.0 1341.6 825.2 1343.8 845.6 1343.8 906.5 1346.1 926.8 1343.8 947.1 1343.8 987.6 1346.1 1008.0 1343.8 1028.2 1346.1 1048.6 1343.8 1068.8 1346.1 1089.2 1346.1 1129.8 1343.8 1150.0 1346.1 1170.4 1343.8 1190.7 1346.1 1211.0 1346.1 1251.5 1343.8 1271.9 1346.1 1292.2M1480.3 74.2 1480.3 236.6 1462.1 256.9 1446.3 277.1 1446.3 297.5 1420.0 317.8 1394.6 338.1 1371.4 358.4 1365.0 378.7 1362.0 398.9 1356.3 419.2 1356.3 459.9 1353.6 480.2 1351.0 500.4 1346.1 520.8 1348.5 541.0 1346.1 561.4 1346.1 622.2 1343.8 642.6 1346.1 662.9 1343.8 683.1 1346.1 703.5 1343.8 723.8 1346.1 744.1 1346.1 926.8 1348.5 947.1 1346.1 967.4 1348.5 987.6 1346.1 1008.0 1348.5 1028.2 1346.1 1048.6 1346.1 1089.2 1348.5 1109.5 1346.1 1129.8 1348.5 1150.0 1348.5 1190.7 1346.1 1211.0 1348.5 1231.2 1348.5 1271.9 1346.1 1292.2M1470.9 74.2 1470.9 155.4 1453.9 175.7 1446.3 196.0 1439.1 216.2 1426.0 236.6 1409.1 256.9 1394.6 277.1 1386.2 297.5 1382.2 317.8 1378.5 338.1 1371.4 358.4 1368.2 378.7 1368.2 398.9 1359.1 419.2 1356.3 439.6 1353.6 459.9 1351.0 480.2 1346.1 500.4 1346.1 520.8 1343.8 541.0 1343.8 602.0 1341.6 622.2 1343.8 642.6 1341.6 662.9 1343.8 683.1 1343.8 723.8 1341.6 744.1 1343.8 764.4 1343.8 947.1 1346.1 967.4 1343.8 987.6 1346.1 1008.0 1346.1 1150.0 1348.5 1170.4 1346.1 1190.7 1348.5 1211.0 1346.1 1231.2 1346.1 1271.9 1348.5 1292.2M1470.9 74.2 1470.9 297.5 1446.3 317.8 1446.3 378.7 1426.0 398.9 1404.0 419.2 1404.0 439.6 1386.2 459.9 1368.2 480.2 1356.3 500.4 1351.0 520.8 1351.0 541.0 1348.5 561.4 1351.0 581.6 1348.5 602.0 1351.0 622.2 1348.5 642.6 1351.0 662.9 1348.5 683.1 1351.0 703.5 1348.5 723.8 1351.0 744.1 1351.0 805.0 1353.6 825.2 1351.0 845.6 1351.0 1109.5 1348.5 1129.8 1351.0 1150.0 1348.5 1170.4 1351.0 1190.7 1348.5 1211.0 1351.0 1231.2 1348.5 1251.5 1351.0 1271.9 1348.5 1292.2M1462.1 74.2 1462.1 216.2 1446.3 236.6 1432.4 256.9 1420.0 277.1 1399.2 297.5 1382.2 317.8 1382.2 338.1 1368.2 358.4 1365.0 378.7 1365.0 398.9 1359.1 419.2 1353.6 439.6 1353.6 480.2 1351.0 500.4 1351.0 520.8 1348.5 541.0 1351.0 561.4 1348.5 581.6 1348.5 642.6 1346.1 662.9 1348.5 683.1 1346.1 703.5 1348.5 723.8 1346.1 744.1 1348.5 764.4 1346.1 784.6 1348.5 805.0 1348.5 886.1 1346.1 906.5 1348.5 926.8 1348.5 967.4 1346.1 987.6 1348.5 1008.0 1346.1 1028.2 1346.1 1292.2M1453.9 74.2 1453.9 317.8 1439.1 338.1 1439.1 358.4 1426.0 378.7 1404.0 398.9 1404.0 439.6 1386.2 459.9 1365.0 480.2 1351.0 500.4 1343.8 520.8 1343.8 541.0 1341.6 561.4 1343.8 581.6 1341.6 602.0 1343.8 622.2 1341.6 642.6 1341.6 683.1 1343.8 703.5 1341.6 723.8 1343.8 744.1 1343.8 845.6 1346.1 865.9 1343.8 886.1 1346.1 906.5 1343.8 926.8 1346.1 947.1 1343.8 967.4 1346.1 987.6 1343.8 1008.0 1346.1 1028.2 1343.8 1048.6 1346.1 1068.8 1343.8 1089.2 1343.8 1129.8 1346.1 1150.0 1343.8 1170.4 1346.1 1190.7 1343.8 1211.0 1346.1 1231.2 1343.8 1251.5 1346.1 1271.9 1343.8 1292.2M1446.3 74.2 1446.3 196.0 1432.4 216.2 1414.4 236.6 1404.0 256.9 1404.0 297.5 1390.3 317.8 1378.5 338.1 1368.2 358.4 1368.2 378.7 1359.1 398.9 1356.3 419.2 1356.3 459.9 1353.6 480.2 1351.0 500.4 1351.0 520.8 1348.5 541.0 1351.0 561.4 1348.5 581.6 1348.5 662.9 1351.0 683.1 1348.5 703.5 1351.0 723.8 1348.5 744.1 1348.5 845.6 1346.1 865.9 1348.5 886.1 1346.1 906.5 1348.5 926.8 1346.1 947.1 1348.5 967.4 1346.1 987.6 1348.5 1008.0 1348.5 1028.2 1351.0 1048.6 1348.5 1068.8 1351.0 1089.2 1348.5 1109.5 1348.5 1231.2 1351.0 1251.5 1348.5 1271.9 1348.5 1292.2M1439.1 74.2 1439.1 317.8 1420.0 338.1 1409.1 358.4 1399.2 378.7 1382.2 398.9 1362.0 419.2 1353.6 439.6 1353.6 459.9 1351.0 480.2 1348.5 500.4 1346.1 520.8 1346.1 541.0 1343.8 561.4 1343.8 642.6 1346.1 662.9 1346.1 683.1 1348.5 703.5 1346.1 723.8 1346.1 764.4 1348.5 784.6 1346.1 805.0 1346.1 845.6 1348.5 865.9 1348.5 987.6 1346.1 1008.0 1348.5 1028.2 1346.1 1048.6 1348.5 1068.8 1346.1 1089.2 1348.5 1109.5 1346.1 1129.8 1348.5 1150.0 1346.1 1170.4 1348.5 1190.7 1346.1 1211.0 1348.5 1231.2 1346.1 1251.5 1348.5 1271.9 1346.1 1292.2M1432.4 74.2 1432.4 216.2 1420.0 236.6 1420.0 256.9 1404.0 277.1 1390.3 297.5 1390.3 338.1 1382.2 358.4 1371.4 378.7 1359.1 398.9 1356.3 419.2 1353.6 439.6 1353.6 480.2 1351.0 500.4 1351.0 520.8 1348.5 541.0 1348.5 561.4 1346.1 581.6 1348.5 602.0 1348.5 642.6 1346.1 662.9 1348.5 683.1 1346.1 703.5 1348.5 723.8 1346.1 744.1 1348.5 764.4 1348.5 825.2 1351.0 845.6 1348.5 865.9 1351.0 886.1 1348.5 906.5 1351.0 926.8 1348.5 947.1 1351.0 967.4 1351.0 1008.0 1348.5 1028.2 1351.0 1048.6 1348.5 1068.8 1351.0 1089.2 1348.5 1109.5 1351.0 1129.8 1348.5 1150.0 1351.0 1170.4 1348.5 1190.7 1351.0 1211.0 1348.5 1231.2 1348.5 1292.2M1426.0 74.2 1426.0 297.5 1409.1 317.8 1409.1 338.1 1394.6 358.4 1394.6 378.7 1378.5 398.9 1378.5 439.6 1371.4 459.9 1359.1 480.2 1353.6 500.4 1348.5 520.8 1348.5 541.0 1346.1 561.4 1348.5 581.6 1346.1 602.0 1348.5 622.2 1346.1 642.6 1346.1 662.9 1343.8 683.1 1346.1 703.5 1346.1 744.1 1343.8 764.4 1346.1 784.6 1343.8 805.0 1346.1 825.2 1346.1 845.6 1348.5 865.9 1346.1 886.1 1348.5 906.5 1346.1 926.8 1348.5 947.1 1346.1 967.4 1348.5 987.6 1348.5 1109.5 1346.1 1129.8 1348.5 1150.0 1346.1 1170.4 1348.5 1190.7 1346.1 1211.0 1348.5 1231.2 1346.1 1251.5 1348.5 1271.9 1346.1 1292.2M1414.4 74.2 1414.4 135.1 1399.2 155.4 1394.6 175.7 1394.6 216.2 1390.3 236.6 1386.2 256.9 1386.2 297.5 1378.5 317.8 1378.5 358.4 1368.2 378.7 1362.0 398.9 1362.0 439.6 1359.1 459.9 1353.6 480.2 1351.0 500.4 1351.0 520.8 1348.5 541.0 1348.5 561.4 1346.1 581.6 1348.5 602.0 1346.1 622.2 1348.5 642.6 1346.1 662.9 1348.5 683.1 1348.5 1028.2 1351.0 1048.6 1348.5 1068.8 1351.0 1089.2 1348.5 1109.5 1351.0 1129.8 1348.5 1150.0 1351.0 1170.4 1348.5 1190.7 1351.0 1211.0 1348.5 1231.2 1351.0 1251.5 1348.5 1271.9 1351.0 1292.2M1409.1 74.2 1409.1 196.0 1404.0 216.2 1404.0 277.1 1394.6 297.5 1386.2 317.8 1378.5 338.1 1371.4 358.4 1368.2 378.7 1365.0 398.9 1365.0 439.6 1359.1 459.9 1351.0 480.2 1348.5 500.4 1343.8 520.8 1343.8 541.0 1341.6 561.4 1343.8 581.6 1341.6 602.0 1341.6 642.6 1343.8 662.9 1341.6 683.1 1343.8 703.5 1341.6 723.8 1343.8 744.1 1341.6 764.4 1343.8 784.6 1343.8 825.2 1341.6 845.6 1343.8 865.9 1343.8 926.8 1346.1 947.1 1343.8 967.4 1343.8 1008.0 1346.1 1028.2 1343.8 1048.6 1346.1 1068.8 1343.8 1089.2 1346.1 1109.5 1343.8 1129.8 1346.1 1150.0 1343.8 1170.4 1346.1 1190.7 1346.1 1251.5 1348.5 1271.9 1346.1 1292.2M1399.2 74.2 1399.2 196.0 1390.3 216.2 1386.2 236.6 1386.2 256.9 1378.5 277.1 1374.9 297.5 1371.4 317.8 1368.2 338.1 1368.2 398.9 1359.1 419.2 1353.6 439.6 1353.6 480.2 1351.0 500.4 1351.0 520.8 1348.5 541.0 1351.0 561.4 1351.0 602.0 1348.5 622.2 1351.0 642.6 1348.5 662.9 1348.5 703.5 1351.0 723.8 1348.5 744.1 1348.5 805.0 1346.1 825.2 1348.5 845.6 1346.1 865.9 1348.5 886.1 1348.5 926.8 1346.1 947.1 1348.5 967.4 1348.5 1089.2 1346.1 1109.5 1348.5 1129.8 1346.1 1150.0 1348.5 1170.4 1348.5 1271.9 1351.0 1292.2M1453.9 74.2 1453.9 317.8 1439.1 338.1 1439.1 378.7 1420.0 398.9 1399.2 419.2 1386.2 439.6 1374.9 459.9 1359.1 480.2 1348.5 500.4 1341.6 520.8 1343.8 541.0 1341.6 561.4 1341.6 602.0 1343.8 622.2 1341.6 642.6 1343.8 662.9 1341.6 683.1 1343.8 703.5 1343.8 723.8 1346.1 744.1 1343.8 764.4 1346.1 784.6 1343.8 805.0 1343.8 825.2 1341.6 845.6 1343.8 865.9 1343.8 886.1 1346.1 906.5 1343.8 926.8 1343.8 967.4 1346.1 987.6 1343.8 1008.0 1343.8 1048.6 1346.1 1068.8 1343.8 1089.2 1346.1 1109.5 1346.1 1292.2M1490.4 74.2 1490.4 277.1 1480.3 297.5 1462.1 317.8 1462.1 338.1 1439.1 358.4 1426.0 378.7 1404.0 398.9 1374.9 419.2 1374.9 439.6 1368.2 459.9 1359.1 480.2 1348.5 500.4 1346.1 520.8 1343.8 541.0 1346.1 561.4 1343.8 581.6 1346.1 602.0 1346.1 662.9 1348.5 683.1 1346.1 703.5 1348.5 723.8 1346.1 744.1 1348.5 764.4 1346.1 784.6 1348.5 805.0 1346.1 825.2 1348.5 845.6 1346.1 865.9 1348.5 886.1 1346.1 906.5 1348.5 926.8 1346.1 947.1 1348.5 967.4 1346.1 987.6 1346.1 1089.2 1343.8 1109.5 1346.1 1129.8 1346.1 1190.7 1348.5 1211.0 1346.1 1231.2 1346.1 1292.2M1426.0 74.2 1426.0 216.2 1414.4 236.6 1399.2 256.9 1386.2 277.1 1382.2 297.5 1378.5 317.8 1378.5 358.4 1368.2 378.7 1362.0 398.9 1359.1 419.2 1353.6 439.6 1353.6 459.9 1351.0 480.2 1351.0 500.4 1348.5 520.8 1348.5 541.0 1346.1 561.4 1348.5 581.6 1343.8 602.0 1346.1 622.2 1346.1 642.6 1348.5 662.9 1346.1 683.1 1346.1 703.5 1343.8 723.8 1346.1 744.1 1343.8 764.4 1346.1 784.6 1346.1 845.6 1348.5 865.9 1346.1 886.1 1346.1 926.8 1348.5 947.1 1346.1 967.4 1348.5 987.6 1346.1 1008.0 1348.5 1028.2 1346.1 1048.6 1348.5 1068.8 1346.1 1089.2 1348.5 1109.5 1346.1 1129.8 1348.5 1150.0 1348.5 1292.2M1462.1 74.2 1462.1 114.8 1446.3 135.1 1439.1 155.4 1426.0 175.7 1409.1 196.0 1409.1 256.9 1394.6 277.1 1382.2 297.5 1374.9 317.8 1371.4 338.1 1371.4 358.4 1365.0 378.7 1359.1 398.9 1359.1 419.2 1353.6 439.6 1353.6 459.9 1351.0 480.2 1348.5 500.4 1348.5 520.8 1346.1 541.0 1346.1 662.9 1348.5 683.1 1346.1 703.5 1346.1 865.9 1348.5 886.1 1346.1 906.5 1348.5 926.8 1346.1 947.1 1348.5 967.4 1346.1 987.6 1348.5 1008.0 1346.1 1028.2 1348.5 1048.6 1348.5 1211.0 1346.1 1231.2 1348.5 1251.5 1346.1 1271.9 1348.5 1292.2M1446.3 74.2 1446.3 114.8 1432.4 135.1 1432.4 155.4 1426.0 175.7 1426.0 196.0 1414.4 216.2 1409.1 236.6 1394.6 256.9 1382.2 277.1 1374.9 297.5 1371.4 317.8 1371.4 338.1 1365.0 358.4 1362.0 378.7 1362.0 439.6 1359.1 459.9 1356.3 480.2 1353.6 500.4 1351.0 520.8 1351.0 541.0 1348.5 561.4 1351.0 581.6 1348.5 602.0 1348.5 622.2 1346.1 642.6 1348.5 662.9 1346.1 683.1 1348.5 703.5 1348.5 744.1 1346.1 764.4 1348.5 784.6 1346.1 805.0 1348.5 825.2 1346.1 845.6 1348.5 865.9 1348.5 926.8 1351.0 947.1 1348.5 967.4 1351.0 987.6 1351.0 1028.2 1348.5 1048.6 1351.0 1068.8 1351.0 1109.5 1348.5 1129.8 1351.0 1150.0 1348.5 1170.4 1351.0 1190.7 1348.5 1211.0 1351.0 1231.2 1348.5 1251.5 1351.0 1271.9 1348.5 1292.2M1480.3 74.2 1480.3 236.6 1470.9 256.9 1470.9 297.5 1462.1 317.8 1446.3 338.1 1432.4 358.4 1432.4 398.9 1420.0 419.2 1404.0 439.6 1390.3 459.9 1368.2 480.2 1353.6 500.4 1351.0 520.8 1348.5 541.0 1348.5 602.0 1346.1 622.2 1348.5 642.6 1346.1 662.9 1346.1 784.6 1348.5 805.0 1346.1 825.2 1348.5 845.6 1346.1 865.9 1348.5 886.1 1348.5 926.8 1346.1 947.1 1348.5 967.4 1346.1 987.6 1348.5 1008.0 1346.1 1028.2 1348.5 1048.6 1348.5 1068.8 1351.0 1089.2 1348.5 1109.5 1348.5 1271.9 1351.0 1292.2M1446.3 74.2 1446.3 297.5 1426.0 317.8 1404.0 338.1 1386.2 358.4 1386.2 398.9 1368.2 419.2 1368.2 439.6 1365.0 459.9 1359.1 480.2 1356.3 500.4 1353.6 520.8 1353.6 541.0 1351.0 561.4 1353.6 581.6 1351.0 602.0 1351.0 642.6 1353.6 662.9 1351.0 683.1 1351.0 723.8 1353.6 744.1 1351.0 764.4 1351.0 947.1 1348.5 967.4 1351.0 987.6 1351.0 1028.2 1348.5 1048.6 1351.0 1068.8 1348.5 1089.2 1351.0 1109.5 1348.5 1129.8 1351.0 1150.0 1348.5 1170.4 1351.0 1190.7 1348.5 1211.0 1351.0 1231.2 1348.5 1251.5 1351.0 1271.9 1348.5 1292.2M1414.4 74.2 1414.4 135.1 1404.0 155.4 1404.0 196.0 1399.2 216.2 1394.6 236.6 1394.6 297.5 1382.2 317.8 1382.2 338.1 1371.4 358.4 1365.0 378.7 1362.0 398.9 1362.0 419.2 1353.6 439.6 1353.6 459.9 1351.0 480.2 1348.5 500.4 1348.5 520.8 1346.1 541.0 1346.1 561.4 1343.8 581.6 1343.8 622.2 1346.1 642.6 1343.8 662.9 1346.1 683.1 1343.8 703.5 1346.1 723.8 1346.1 744.1 1348.5 764.4 1346.1 784.6 1348.5 805.0 1346.1 825.2 1348.5 845.6 1346.1 865.9 1346.1 906.5 1348.5 926.8 1346.1 947.1 1348.5 967.4 1348.5 1008.0 1346.1 1028.2 1348.5 1048.6 1346.1 1068.8 1348.5 1089.2 1346.1 1109.5 1348.5 1129.8 1346.1 1150.0 1348.5 1170.4 1346.1 1190.7 1348.5 1211.0 1346.1 1231.2 1348.5 1251.5 1346.1 1271.9 1348.5 1292.2M1470.9 74.2 1470.9 297.5 1446.3 317.8 1426.0 338.1 1414.4 358.4 1399.2 378.7 1390.3 398.9 1390.3 439.6 1378.5 459.9 1362.0 480.2 1351.0 500.4 1346.1 520.8 1346.1 541.0 1343.8 561.4 1346.1 581.6 1341.6 602.0 1343.8 622.2 1343.8 642.6 1346.1 662.9 1343.8 683.1 1346.1 703.5 1346.1 744.1 1343.8 764.4 1346.1 784.6 1343.8 805.0 1346.1 825.2 1343.8 845.6 1346.1 865.9 1343.8 886.1 1346.1 906.5 1343.8 926.8 1346.1 947.1 1346.1 1068.8 1343.8 1089.2 1346.1 1109.5 1346.1 1292.2M1446.3 74.2 1446.3 297.5 1420.0 317.8 1409.1 338.1 1386.2 358.4 1365.0 378.7 1365.0 419.2 1353.6 439.6 1353.6 459.9 1351.0 480.2 1348.5 500.4 1348.5 520.8 1346.1 541.0 1346.1 561.4 1343.8 581.6 1343.8 703.5 1346.1 723.8 1343.8 744.1 1346.1 764.4 1343.8 784.6 1346.1 805.0 1346.1 845.6 1343.8 865.9 1346.1 886.1 1343.8 906.5 1346.1 926.8 1343.8 947.1 1346.1 967.4 1343.8 987.6 1346.1 1008.0 1346.1 1068.8 1348.5 1089.2 1346.1 1109.5 1348.5 1129.8 1346.1 1150.0 1348.5 1170.4 1346.1 1190.7 1348.5 1211.0 1346.1 1231.2 1348.5 1251.5 1346.1 1271.9 1348.5 1292.2M1404.0 74.2 1404.0 277.1 1390.3 297.5 1374.9 317.8 1368.2 338.1 1368.2 378.7 1359.1 398.9 1359.1 419.2 1353.6 439.6 1353.6 500.4 1351.0 520.8 1351.0 581.6 1348.5 602.0 1351.0 622.2 1348.5 642.6 1351.0 662.9 1348.5 683.1 1351.0 703.5 1348.5 723.8 1351.0 744.1 1351.0 784.6 1348.5 805.0 1351.0 825.2 1351.0 1109.5 1348.5 1129.8 1351.0 1150.0 1348.5 1170.4 1351.0 1190.7 1348.5 1211.0 1351.0 1231.2 1348.5 1251.5 1351.0 1271.9 1348.5 1292.2M1420.0 74.2 1420.0 114.8 1409.1 135.1 1404.0 155.4 1404.0 216.2 1394.6 236.6 1394.6 256.9 1390.3 277.1 1386.2 297.5 1382.2 317.8 1382.2 378.7 1371.4 398.9 1359.1 419.2 1359.1 439.6 1356.3 459.9 1353.6 480.2 1348.5 500.4 1348.5 520.8 1346.1 541.0 1348.5 561.4 1346.1 581.6 1346.1 602.0 1343.8 622.2 1346.1 642.6 1346.1 662.9 1348.5 683.1 1346.1 703.5 1348.5 723.8 1346.1 744.1 1348.5 764.4 1346.1 784.6 1348.5 805.0 1346.1 825.2 1346.1 865.9 1348.5 886.1 1346.1 906.5 1348.5 926.8 1346.1 947.1 1348.5 967.4 1348.5 1008.0 1346.1 1028.2 1348.5 1048.6 1346.1 1068.8 1348.5 1089.2 1346.1 1109.5 1348.5 1129.8 1346.1 1150.0 1348.5 1170.4 1346.1 1190.7 1348.5 1211.0 1346.1 1231.2 1348.5 1251.5 1346.1 1271.9 1348.5 1292.2M1404.0 74.2 1404.0 236.6 1399.2 256.9 1394.6 277.1 1394.6 317.8 1378.5 338.1 1374.9 358.4 1368.2 378.7 1365.0 398.9 1365.0 439.6 1359.1 459.9 1353.6 480.2 1348.5 500.4 1346.1 520.8 1346.1 541.0 1343.8 561.4 1346.1 581.6 1343.8 602.0 1346.1 622.2 1343.8 642.6 1346.1 662.9 1346.1 703.5 1343.8 723.8 1346.1 744.1 1346.1 865.9 1343.8 886.1 1346.1 906.5 1346.1 1008.0 1348.5 1028.2 1346.1 1048.6 1348.5 1068.8 1346.1 1089.2 1348.5 1109.5 1346.1 1129.8 1346.1 1170.4 1348.5 1190.7 1346.1 1211.0 1346.1 1292.2M1513.2 74.2 1513.2 317.8 1501.3 338.1 1490.4 358.4 1480.3 378.7 1480.3 398.9 1470.9 419.2 1470.9 439.6 1420.0 459.9 1378.5 480.2 1353.6 500.4 1348.5 520.8 1346.1 541.0 1346.1 561.4 1343.8 581.6 1346.1 602.0 1346.1 703.5 1348.5 723.8 1346.1 744.1 1348.5 764.4 1346.1 784.6 1348.5 805.0 1346.1 825.2 1346.1 886.1 1343.8 906.5 1346.1 926.8 1343.8 947.1 1346.1 967.4 1343.8 987.6 1346.1 1008.0 1343.8 1028.2 1346.1 1048.6 1346.1 1068.8 1348.5 1089.2 1346.1 1109.5 1348.5 1129.8 1346.1 1150.0 1348.5 1170.4 1346.1 1190.7 1348.5 1211.0 1346.1 1231.2 1348.5 1251.5 1346.1 1271.9 1348.5 1292.2M1420.0 74.2 1420.0 236.6 1394.6 256.9 1394.6 277.1 1382.2 297.5 1378.5 317.8 1371.4 338.1 1368.2 358.4 1365.0 378.7 1362.0 398.9 1359.1 419.2 1353.6 439.6 1353.6 459.9 1351.0 480.2 1348.5 500.4 1346.1 520.8 1346.1 561.4 1348.5 581.6 1346.1 602.0 1348.5 622.2 1348.5 703.5 1346.1 723.8 1348.5 744.1 1348.5 764.4 1351.0 784.6 1348.5 805.0 1348.5 865.9 1346.1 886.1 1348.5 906.5 1346.1 926.8 1346.1 967.4 1348.5 987.6 1348.5 1028.2 1346.1 1048.6 1348.5 1068.8 1348.5 1109.5 1346.1 1129.8 1348.5 1150.0 1346.1 1170.4 1348.5 1190.7 1346.1 1211.0 1348.5 1231.2 1346.1 1251.5 1348.5 1271.9 1348.5 1292.2M1470.9 74.2 1470.9 216.2 1453.9 236.6 1439.1 256.9 1420.0 277.1 1420.0 317.8 1404.0 338.1 1390.3 358.4 1390.3 378.7 1368.2 398.9 1368.2 439.6 1362.0 459.9 1353.6 480.2 1346.1 500.4 1343.8 520.8 1341.6 541.0 1343.8 561.4 1343.8 602.0 1341.6 622.2 1343.8 642.6 1343.8 703.5 1346.1 723.8 1343.8 744.1 1346.1 764.4 1343.8 784.6 1346.1 805.0 1346.1 967.4 1343.8 987.6 1346.1 1008.0 1343.8 1028.2 1346.1 1048.6 1343.8 1068.8 1346.1 1089.2 1343.8 1109.5 1346.1 1129.8 1346.1 1292.2" fill="none" stroke="#00ffff" stroke-width="1.4"/>
<path d="M1216.8 1485.0v-14.5M1216.8 64.0v14.5M1377.8 1485.0v-14.5M1377.8 64.0v14.5M1538.9 1485.0v-14.5M1538.9 64.0v14.5M1699.9 1485.0v-14.5M1699.9 64.0v14.5M1861.0 1485.0v-14.5M1861.0 64.0v14.5M2022.0 1485.0v-14.5M2022.0 64.0v14.5M1216.8 64.0h14.5M2022.0 64.0h-14.5M1216.8 267.0h14.5M2022.0 267.0h-14.5M1216.8 470.0h14.5M2022.0 470.0h-14.5M1216.8 673.0h14.5M2022.0 673.0h-14.5M1216.8 876.0h14.5M2022.0 876.0h-14.5M1216.8 1079.0h14.5M2022.0 1079.0h-14.5M1216.8 1282.0h14.5M2022.0 1282.0h-14.5M1216.8 1485.0h14.5M2022.0 1485.0h-14.5" stroke="#262626" stroke-width="1.7" fill="none"/>
<rect x="1216.8" y="64.0" width="805.2" height="1421.0" fill="none" stroke="#262626" stroke-width="1.9"/>
<g font-size="40" fill="#262626"><text x="1216.8" y="1536.6" text-anchor="middle">0</text>
<text x="1377.8" y="1536.6" text-anchor="middle">100</text>
<text x="1538.9" y="1536.6" text-anchor="middle">200</text>
<text x="1699.9" y="1536.6" text-anchor="middle">300</text>
<text x="1861.0" y="1536.6" text-anchor="middle">400</text>
<text x="2022.0" y="1536.6" text-anchor="middle">500</text>
<text x="1199.6" y="78.3" text-anchor="end">0</text>
<text x="1185.0" y="281.3" text-anchor="end">-10</text>
<text x="1185.0" y="484.3" text-anchor="end">-20</text>
<text x="1185.0" y="687.3" text-anchor="end">-30</text>
<text x="1185.0" y="890.3" text-anchor="end">-40</text>
<text x="1185.0" y="1093.3" text-anchor="end">-50</text>
<text x="1185.0" y="1296.3" text-anchor="end">-60</text>
<text x="1185.0" y="1499.3" text-anchor="end">-70</text></g>
<rect x="738.9" y="1046.9" width="199.70000000000005" height="415.0999999999999" fill="#fff" stroke="#262626" stroke-width="1.6"/>
<circle cx="787.5" cy="1073.9" r="14.0" fill="#ff0000" stroke="#0072bd" stroke-width="1.6"/>
<text x="829.5" y="1087.3" font-size="37" fill="#000">B2</text>
<circle cx="787.5" cy="1119.1" r="14.0" fill="#ffaa00" stroke="#d95319" stroke-width="1.6"/>
<text x="829.5" y="1132.5" font-size="37" fill="#000">CS1</text>
<circle cx="787.5" cy="1164.3" r="14.0" fill="#aaff00" stroke="#edb120" stroke-width="1.6"/>
<text x="829.5" y="1177.7" font-size="37" fill="#000">CS3</text>
<circle cx="787.5" cy="1209.5" r="14.0" fill="#00ff00" stroke="#7e2f8e" stroke-width="1.6"/>
<text x="829.5" y="1222.9" font-size="37" fill="#000">D2</text>
<circle cx="787.5" cy="1254.7" r="14.0" fill="#00ffaa" stroke="#77ac30" stroke-width="1.6"/>
<text x="829.5" y="1268.1" font-size="37" fill="#000">JB1</text>
<circle cx="787.5" cy="1299.9" r="14.0" fill="#00aaff" stroke="#4dbeee" stroke-width="1.6"/>
<text x="829.5" y="1313.3" font-size="37" fill="#000">OB</text>
<circle cx="787.5" cy="1345.1" r="14.0" fill="#0000ff" stroke="#a2142f" stroke-width="1.6"/>
<text x="829.5" y="1358.5" font-size="37" fill="#000">P1</text>
<circle cx="787.5" cy="1390.3" r="14.0" fill="#aa00ff" stroke="#0072bd" stroke-width="1.6"/>
<text x="829.5" y="1403.7" font-size="37" fill="#000">U2</text>
<circle cx="787.5" cy="1435.5" r="14.0" fill="#ff00aa" stroke="#d95319" stroke-width="1.6"/>
<text x="829.5" y="1448.9" font-size="37" fill="#000">ctd16</text>
<rect x="1799.3" y="1047.0" width="199.4000000000001" height="415.0" fill="#fff" stroke="#262626" stroke-width="1.6"/>
<circle cx="1847.3" cy="1073.9" r="14.0" fill="#ff0000" stroke="#0072bd" stroke-width="1.6"/>
<text x="1890.1" y="1087.3" font-size="37" fill="#000">B2</text>
<circle cx="1847.3" cy="1119.1" r="14.0" fill="#ffaa00" stroke="#d95319" stroke-width="1.6"/>
<text x="1890.1" y="1132.5" font-size="37" fill="#000">CS1</text>
<circle cx="1847.3" cy="1164.3" r="14.0" fill="#aaff00" stroke="#edb120" stroke-width="1.6"/>
<text x="1890.1" y="1177.7" font-size="37" fill="#000">CS3</text>
<circle cx="1847.3" cy="1209.5" r="14.0" fill="#00ff00" stroke="#7e2f8e" stroke-width="1.6"/>
<text x="1890.1" y="1222.9" font-size="37" fill="#000">D2</text>
<circle cx="1847.3" cy="1254.7" r="14.0" fill="#00ffaa" stroke="#77ac30" stroke-width="1.6"/>
<text x="1890.1" y="1268.1" font-size="37" fill="#000">JB1</text>
<circle cx="1847.3" cy="1299.9" r="14.0" fill="#00aaff" stroke="#4dbeee" stroke-width="1.6"/>
<text x="1890.1" y="1313.3" font-size="37" fill="#000">OB</text>
<circle cx="1847.3" cy="1345.1" r="14.0" fill="#0000ff" stroke="#a2142f" stroke-width="1.6"/>
<text x="1890.1" y="1358.5" font-size="37" fill="#000">P1</text>
<circle cx="1847.3" cy="1390.3" r="14.0" fill="#aa00ff" stroke="#0072bd" stroke-width="1.6"/>
<text x="1890.1" y="1403.7" font-size="37" fill="#000">U2</text>
<circle cx="1847.3" cy="1435.5" r="14.0" fill="#ff00aa" stroke="#d95319" stroke-width="1.6"/>
<text x="1890.1" y="1448.9" font-size="37" fill="#000">ctd16</text>
<text x="557" y="47.4" font-size="44" font-weight="bold" text-anchor="middle" fill="#000">(a)</text>
<text x="1619" y="47.4" font-size="44" font-weight="bold" text-anchor="middle" fill="#000">(b)</text>
<text transform="translate(48.9,783.5) rotate(-90)" font-size="44" text-anchor="middle" fill="#262626">Depth (m)</text>
<g fill="#262626">
<text x="513.2" y="1602.6" font-size="43">P</text>
<text x="535.3" y="1582" font-size="35">chl</text>
<text x="535.3" y="1624.9" font-size="35">max</text>
<text x="349.5" y="1686.3" font-size="43">mg C (mg Chl)</text>
<text x="647.5" y="1665.2" font-size="33">-1</text>
<text x="702.2" y="1686.3" font-size="43">s</text>
<text x="726.2" y="1665.2" font-size="33">-1</text>
<text x="841.5" y="1599.6" font-size="40">&#215;</text>
<text x="871.5" y="1599.6" font-size="40">10</text>
<text x="922.0" y="1579.9" font-size="30">-3</text>
</g>
<g fill="#262626">
<text x="1595.3" y="1589.6" font-size="43">E</text>
<text x="1618.8" y="1611.2" font-size="34">K</text>
<text x="1506.5" y="1672.9" font-size="43" font-style="italic" font-family="'DejaVu Serif','Liberation Serif',serif">&#956;</text>
<text x="1533.0" y="1672.9" font-size="43">E m</text>
<text x="1609.5" y="1651.9" font-size="33">-2</text>
<text x="1663.0" y="1672.9" font-size="43">s</text>
<text x="1688.0" y="1651.9" font-size="33">-1</text>
</g>
<rect x="425.75" y="1719.9" width="1176.25" height="84.4" fill="#fff" stroke="#000" stroke-width="6.5" rx="1"/>
<rect x="452.4" y="1748.9" width="29.4" height="9" fill="#1ee01e"/>
<rect x="969.6" y="1749" width="28.8" height="8.7" fill="#000"/>
<rect x="1282.3" y="1749.3" width="28.4" height="8.4" fill="#23c6d6"/>
<g fill="#000">
<text x="497" y="1780.6" font-size="46.5">Calibrated S2P3 v8.0;</text>
<text x="1017" y="1780.6" font-size="54">R</text>
<text x="1056.5" y="1794.3" font-size="38">m</text>
<text x="1100" y="1780.6" font-size="54">= 1.75;</text>
<text x="1330" y="1780.6" font-size="54">R</text>
<text x="1369.5" y="1794.3" font-size="38">m</text>
<text x="1413" y="1780.6" font-size="54">= 5.25</text>
</g>
</svg></body></html>
